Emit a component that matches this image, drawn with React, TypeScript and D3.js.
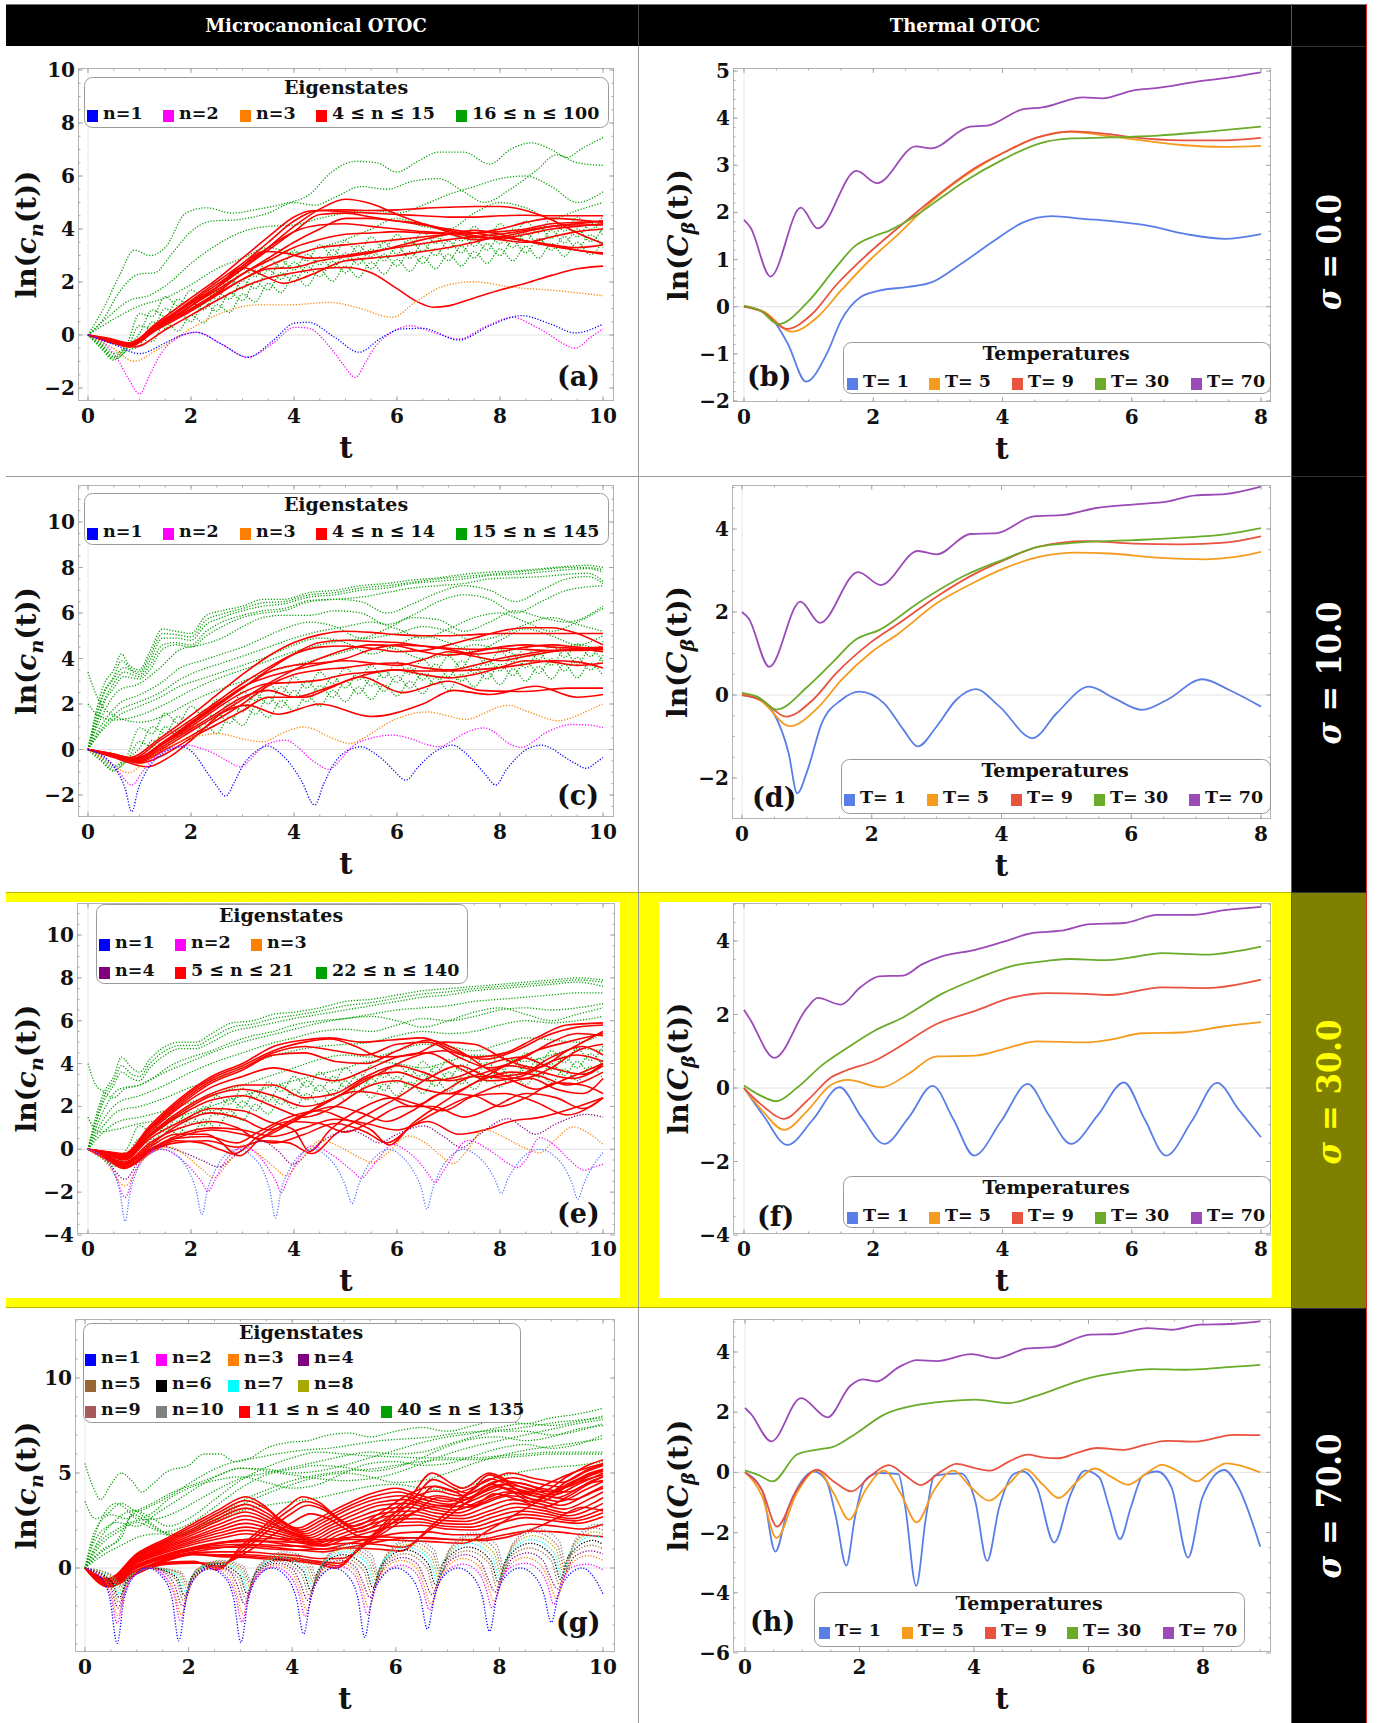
import React from "react";
import * as d3 from "d3";

type Pt = [number, number];

// ---------------- tick values ----------------
const MICRO_XTICKS = [0, 2, 4, 6, 8, 10];
const THERM_XTICKS = [0, 2, 4, 6, 8];
const A_YTICKS = [-2, 0, 2, 4, 6, 8, 10];
const B_YTICKS = [-2, -1, 0, 1, 2, 3, 4, 5];
const C_YTICKS = [-2, 0, 2, 4, 6, 8, 10];
const D_YTICKS = [-2, 0, 2, 4];
const E_YTICKS = [-4, -2, 0, 2, 4, 6, 8, 10];
const F_YTICKS = [-4, -2, 0, 2, 4];
const G_YTICKS = [0, 5, 10];
const H_YTICKS = [-6, -4, -2, 0, 2, 4];

// ---------------- legends ----------------
const TEMP_LABELS = ["T= 1", "T= 5", "T= 9", "T= 30", "T= 70"];
const TEMP_COLORS = ["#5a7ee8", "#f59b1e", "#e8523f", "#6aab2a", "#9b4ab7"];
const A_LABELS = ["n=1", "n=2", "n=3", "4 \u2264 n \u2264 15", "16 \u2264 n \u2264 100"];
const C_LABELS = ["n=1", "n=2", "n=3", "4 \u2264 n \u2264 14", "15 \u2264 n \u2264 145"];
const E_LABELS = ["n=1", "n=2", "n=3", "n=4", "5 \u2264 n \u2264 21", "22 \u2264 n \u2264 140"];
const G_LABELS = ["n=1", "n=2", "n=3", "n=4", "n=5", "n=6", "n=7", "n=8", "n=9", "n=10", "11 \u2264 n \u2264 40", "40 \u2264 n \u2264 135"];
const N_COLORS = ["#0000ff", "#ff00ff", "#ff8000", "#800080", "#996633", "#000000", "#00ffff", "#a8a800", "#a85a5a", "#808080"];
const RED = "#ff0000";
const GREEN = "#00a000";

// ---------------- thermal OTOC, sigma = 0 ----------------
const B_T1: Pt[] = [[0,0],[0.25,-0.08],[0.46,-0.3],[0.68,-0.79],[0.96,-1.59],[1.28,-1.0],[1.5,-0.3],[1.8,0.2],[2.09,0.34],[2.54,0.42],[2.91,0.52],[3.35,0.9],[3.87,1.4],[4.32,1.79],[4.76,1.92],[5.28,1.86],[5.65,1.82],[6.25,1.72],[6.84,1.54],[7.44,1.44],[8,1.54]];
const B_T5: Pt[] = [[0,0.02],[0.3,-0.1],[0.74,-0.53],[1.13,-0.23],[1.5,0.34],[1.94,0.98],[2.39,1.54],[2.98,2.32],[3.58,2.92],[4.02,3.27],[4.54,3.59],[5.06,3.71],[5.65,3.62],[6.03,3.55],[6.77,3.43],[7.44,3.39],[8,3.41]];
const B_T9: Pt[] = [[0,0],[0.3,-0.12],[0.66,-0.47],[1.05,-0.16],[1.42,0.45],[1.94,1.15],[2.39,1.68],[2.98,2.35],[3.58,2.95],[4.02,3.27],[4.54,3.59],[5.06,3.72],[5.65,3.66],[6.03,3.59],[6.77,3.53],[7.44,3.53],[8,3.58]];
const B_T30: Pt[] = [[0,0.02],[0.25,-0.08],[0.53,-0.37],[0.98,0.09],[1.42,0.83],[1.72,1.29],[2.02,1.5],[2.24,1.61],[2.69,1.96],[3.06,2.32],[3.43,2.67],[4.02,3.13],[4.54,3.45],[5.06,3.57],[5.65,3.59],[6.4,3.63],[7.14,3.71],[8,3.82]];
const B_T70: Pt[] = [[0,1.84],[0.1,1.68],[0.41,0.64],[0.88,2.1],[1.14,1.66],[1.74,2.88],[2.06,2.62],[2.66,3.4],[2.89,3.36],[3.5,3.82],[3.76,3.84],[4.32,4.19],[4.62,4.23],[5.25,4.44],[5.54,4.42],[6.03,4.59],[6.4,4.64],[6.99,4.77],[7.44,4.85],[8,4.97]];

// ---------------- thermal OTOC, sigma = 10 ----------------
const D_T1: Pt[] = [[0,0],[0.25,-0.1],[0.49,-0.44],[0.72,-1.41],[0.85,-2.37],[1.01,-1.81],[1.23,-0.68],[1.53,-0.12],[1.81,0.08],[2.19,-0.2],[2.49,-0.84],[2.71,-1.24],[3.0,-0.76],[3.3,-0.12],[3.6,0.14],[3.97,-0.28],[4.48,-1.04],[4.85,-0.44],[5.35,0.2],[5.74,-0.08],[6.17,-0.36],[6.55,-0.12],[7.1,0.38],[7.51,0.12],[8,-0.28]];
const D_T5: Pt[] = [[0,0.05],[0.3,-0.15],[0.74,-0.75],[1.16,-0.32],[1.53,0.36],[1.97,1.0],[2.42,1.49],[3.0,2.21],[3.6,2.73],[4.04,3.05],[4.56,3.32],[5.15,3.43],[5.66,3.41],[6.4,3.31],[7.14,3.27],[7.58,3.32],[8,3.45]];
const D_T9: Pt[] = [[0,0],[0.3,-0.12],[0.68,-0.52],[1.09,-0.12],[1.45,0.52],[1.97,1.25],[2.42,1.73],[3.0,2.37],[3.6,2.93],[4.04,3.25],[4.56,3.57],[5.3,3.71],[6.03,3.65],[6.77,3.63],[7.44,3.67],[8,3.82]];
const D_T30: Pt[] = [[0,0.05],[0.25,-0.05],[0.53,-0.35],[1.01,0.2],[1.38,0.76],[1.75,1.33],[2.12,1.57],[2.71,2.21],[3.45,2.89],[4.04,3.27],[4.56,3.57],[5.15,3.67],[6.03,3.73],[6.77,3.79],[7.44,3.87],[8,4.02]];
const D_T70: Pt[] = [[0,2.0],[0.1,1.85],[0.42,0.68],[0.9,2.25],[1.2,1.74],[1.79,2.96],[2.14,2.65],[2.71,3.47],[3.0,3.39],[3.52,3.88],[3.93,3.9],[4.48,4.3],[4.96,4.34],[5.44,4.5],[6.1,4.6],[6.55,4.66],[6.99,4.81],[7.44,4.84],[8,5.02]];

// ---------------- thermal OTOC, sigma = 30 ----------------
const F_T1: Pt[] = [[0,0],[0.3,-0.75],[0.67,-1.55],[1.07,-0.85],[1.48,0.02],[1.82,-0.8],[2.17,-1.52],[2.55,-0.8],[2.92,0.06],[3.24,-0.85],[3.56,-1.84],[3.98,-0.9],[4.39,0.11],[4.72,-0.75],[5.06,-1.52],[5.47,-0.75],[5.88,0.15],[6.2,-0.85],[6.53,-1.84],[6.93,-0.9],[7.32,0.14],[7.66,-0.6],[8,-1.34]];
const F_T5: Pt[] = [[0,0],[0.3,-0.65],[0.62,-1.14],[0.98,-0.62],[1.35,0.09],[1.61,0.22],[2.13,0.02],[2.54,0.38],[2.98,0.86],[3.58,0.88],[4.02,1.06],[4.54,1.27],[5.28,1.24],[5.65,1.31],[6.17,1.49],[6.77,1.51],[7.44,1.68],[8,1.79]];
const F_T9: Pt[] = [[0,0],[0.3,-0.5],[0.61,-0.84],[0.98,-0.34],[1.35,0.29],[1.57,0.47],[2.02,0.74],[2.39,1.11],[2.98,1.74],[3.58,2.1],[4.17,2.47],[4.69,2.58],[5.28,2.56],[5.65,2.53],[6.47,2.74],[7.14,2.72],[8,2.95]];
const F_T30: Pt[] = [[0,0.07],[0.25,-0.2],[0.5,-0.36],[0.83,0.02],[1.2,0.61],[1.57,1.06],[2.02,1.56],[2.46,1.92],[3.06,2.56],[3.58,2.96],[4.17,3.33],[4.69,3.46],[5.06,3.51],[5.58,3.48],[5.95,3.54],[6.47,3.67],[7.14,3.63],[7.58,3.71],[8,3.85]];
const F_T70: Pt[] = [[0,2.13],[0.1,1.85],[0.47,0.82],[0.98,2.19],[1.14,2.45],[1.5,2.27],[1.8,2.74],[2.09,3.04],[2.46,3.06],[2.76,3.37],[3.06,3.58],[3.58,3.76],[4.02,3.98],[4.47,4.22],[4.91,4.28],[5.36,4.46],[5.88,4.49],[6.4,4.71],[6.92,4.71],[7.44,4.84],[8,4.93]];

// ---------------- thermal OTOC, sigma = 70 ----------------
const H_T1: Pt[] = [[0,0],[0.3,-0.6],[0.53,-2.63],[0.75,-1.2],[0.92,-0.5],[1.21,0.03],[1.42,-0.28],[1.59,-1.5],[1.77,-3.1],[1.92,-1.5],[2.09,-0.28],[2.34,-0.02],[2.68,-0.06],[2.8,-1.16],[2.99,-3.77],[3.16,-1.5],[3.31,-0.11],[3.77,-0.03],[4.02,-0.94],[4.23,-2.94],[4.44,-1.16],[4.69,-0.06],[4.85,0.03],[5.1,-0.5],[5.4,-2.33],[5.69,-0.72],[5.94,0.06],[6.19,-0.17],[6.36,-1.16],[6.55,-2.22],[6.74,-1.16],[6.95,-0.11],[7.2,0.03],[7.45,-0.5],[7.74,-2.83],[7.99,-0.83],[8.37,0.08],[8.62,-0.5],[9,-2.47]];
const H_T5: Pt[] = [[0,0.02],[0.3,-0.8],[0.55,-2.18],[0.9,-0.7],[1.26,0.08],[1.55,-0.7],[1.82,-1.57],[2.1,-0.6],[2.43,0.06],[2.72,-0.7],[3.0,-1.66],[3.3,-0.6],[3.64,0.06],[3.95,-0.5],[4.27,-0.94],[4.6,-0.4],[4.9,0.11],[5.2,-0.4],[5.48,-0.85],[5.8,-0.3],[6.11,0.13],[6.4,-0.15],[6.69,-0.41],[7.0,-0.05],[7.28,0.25],[7.6,0.0],[7.89,-0.3],[8.15,0.05],[8.41,0.3],[8.7,0.2],[9,0.0]];
const H_T9: Pt[] = [[0,0],[0.3,-0.6],[0.56,-1.8],[0.9,-0.6],[1.26,0.09],[1.55,-0.3],[1.86,-0.63],[2.2,-0.1],[2.51,0.24],[2.8,-0.1],[3.07,-0.42],[3.4,0.0],[3.7,0.28],[4.0,0.15],[4.28,0.06],[4.6,0.35],[4.94,0.59],[5.2,0.5],[5.48,0.47],[5.8,0.65],[6.15,0.81],[6.61,0.75],[7.0,0.92],[7.36,1.05],[7.87,1.02],[8.54,1.25],[9,1.24]];
const H_T30: Pt[] = [[0,0.07],[0.25,-0.1],[0.48,-0.3],[0.92,0.61],[1.34,0.78],[1.51,0.83],[1.92,1.27],[2.43,1.92],[3.01,2.24],[3.51,2.36],[4.02,2.42],[4.6,2.3],[5.1,2.55],[5.94,3.1],[6.53,3.32],[7.11,3.43],[7.7,3.41],[8.37,3.49],[9,3.57]];
const H_T70: Pt[] = [[0,2.14],[0.1,1.95],[0.46,1.03],[0.98,2.47],[1.44,1.83],[1.84,2.88],[2.05,3.09],[2.3,3.02],[2.68,3.49],[3.01,3.73],[3.35,3.7],[3.95,3.93],[4.37,3.79],[4.94,4.12],[5.36,4.16],[6.03,4.58],[6.44,4.59],[7.03,4.79],[7.45,4.74],[7.95,4.91],[8.45,4.93],[9,5.02]];

// ---------------- microcanonical OTOC, sigma = 0 ----------------
const A_N1: Pt[] = [[0,0],[0.5,-0.35],[1.0,-0.7],[1.5,-0.3],[1.76,-0.05],[2.1,0.1],[2.6,-0.35],[3.1,-0.84],[3.6,-0.2],[4.0,0.44],[4.27,0.48],[4.8,-0.1],[5.26,-0.65],[5.7,-0.1],[6.09,0.23],[6.5,0.25],[7.2,-0.19],[7.8,0.35],[8.42,0.73],[9.0,0.4],[9.46,0.08],[10,0.41]];
const A_N2: Pt[] = [[0,0],[0.3,-0.3],[0.55,-0.84],[0.8,-1.7],[1.0,-2.22],[1.2,-1.5],[1.41,-0.72],[1.76,-0.09],[2.1,0.1],[2.6,-0.35],[3.1,-0.84],[3.6,-0.3],[4.01,0.29],[4.27,0.26],[4.7,-0.46],[4.95,-1.1],[5.19,-1.6],[5.4,-1.0],[5.57,-0.46],[5.9,0.1],[6.26,0.35],[6.7,0.1],[7.21,-0.15],[7.7,0.3],[8.25,0.67],[8.6,0.4],[8.94,0.04],[9.2,-0.3],[9.46,-0.5],[9.75,-0.1],[10,0.23]];
const A_N3: Pt[] = [[0,0],[0.46,-0.46],[0.89,-0.99],[1.32,-0.59],[1.93,0.16],[2.62,0.85],[3.32,1.14],[3.92,1.14],[4.7,1.23],[5.22,1.04],[5.91,0.67],[6.35,1.23],[6.87,1.82],[7.47,2.01],[8.25,1.8],[9.12,1.67],[10,1.48]];
const A_RED: Pt[][] = [
  [[0,0],[0.4,-0.12],[0.8,-0.3],[1.3,0.3],[2,1.2],[2.5,1.8],[3,2.5],[3.5,3.3],[4,4.1],[4.5,4.75],[5,5.12],[5.5,4.95],[6,4.55],[6.5,4.2],[7,3.9],[7.5,3.7],[8,3.65],[8.5,3.8],[9,4.0],[9.5,4.1],[10,4.2]],
  [[0,0],[0.4,-0.15],[0.8,-0.35],[1.3,0.4],[2,1.4],[2.5,2.1],[3,2.9],[3.5,3.7],[4,4.45],[4.3,4.68],[5,4.72],[5.5,4.7],[6,4.72],[6.5,4.78],[7,4.82],[7.5,4.85],[8,4.85],[8.5,4.7],[9,4.35],[9.5,3.85],[10,3.45]],
  [[0,0],[0.4,-0.2],[0.8,-0.4],[1.3,0.3],[2,1.3],[2.5,2.0],[3,2.7],[3.5,3.5],[4,4.3],[4.5,4.7],[5,4.65],[5.5,4.6],[6,4.55],[6.5,4.5],[7,4.45],[7.5,4.45],[8,4.5],[8.5,4.52],[9,4.5],[9.5,4.5],[10,4.5]],
  [[0,0],[0.4,-0.18],[0.8,-0.32],[1.3,0.35],[2,1.2],[2.5,1.8],[3,2.5],[3.5,3.2],[4,3.9],[4.5,4.55],[5,4.6],[5.5,4.45],[6,4.3],[6.5,4.15],[7,4.0],[7.5,3.85],[8,3.7],[8.5,3.55],[9,3.4],[9.5,3.2],[10,3.05]],
  [[0,0],[0.4,-0.22],[0.8,-0.42],[1.3,0.2],[2,1.1],[2.5,1.7],[3,2.3],[3.5,2.9],[4,3.5],[4.5,4.0],[5,4.4],[5.5,4.4],[6,4.3],[6.5,4.2],[7,3.95],[7.5,3.75],[8,3.6],[8.5,3.5],[9,3.7],[9.5,3.9],[10,4.0]],
  [[0,0],[0.4,-0.2],[0.8,-0.38],[1.3,0.25],[2,1.0],[2.5,1.6],[3,2.3],[3.5,2.8],[4,3.3],[4.5,3.6],[5,3.8],[5.5,3.85],[6,3.9],[6.5,3.85],[7,3.8],[7.5,3.6],[8,3.7],[8.5,3.9],[9,4.1],[9.5,4.2],[10,4.3]],
  [[0,0],[0.4,-0.25],[0.8,-0.45],[1.3,0.15],[2,0.9],[2.5,1.5],[3,2.1],[3.5,2.6],[4,3.0],[4.5,3.3],[5,3.4],[5.5,3.5],[6,3.6],[6.5,3.7],[7,3.8],[7.5,3.85],[8,3.9],[8.5,4.0],[9,4.2],[9.5,4.25],[10,4.3]],
  [[0,0],[0.4,-0.2],[0.8,-0.35],[1.3,0.3],[2,1.1],[2.5,1.8],[3,2.6],[3.4,3.15],[3.8,3.1],[4.3,2.9],[5,3.0],[5.5,3.15],[6,3.3],[6.5,3.45],[7,3.6],[7.5,3.7],[8,3.8],[8.5,3.95],[9,4.1],[9.5,4.15],[10,4.15]],
  [[0,0],[0.4,-0.2],[0.8,-0.4],[1.3,0.25],[2,1.1],[2.5,1.8],[3,2.55],[3.4,2.25],[3.8,1.95],[4.3,2.25],[5,2.8],[5.5,2.9],[6,3.0],[6.5,3.15],[7,3.3],[7.5,3.5],[8,3.7],[8.5,3.55],[9,3.4],[9.5,3.3],[10,3.4]],
  [[0,0],[0.4,-0.25],[0.9,-0.45],[1.5,0.2],[2,0.75],[2.5,1.3],[3,1.8],[3.5,2.15],[4,2.35],[4.5,2.5],[5,2.55],[5.5,2.35],[6,1.75],[6.4,1.25],[6.7,1.05],[7,1.1],[7.5,1.4],[8,1.7],[8.5,1.95],[9,2.25],[9.5,2.5],[10,2.6]],
  [[0,0],[0.4,-0.22],[0.8,-0.4],[1.3,0.2],[2,0.95],[2.5,1.55],[3,2.1],[3.5,2.5],[4,2.55],[4.5,2.8],[5,2.95],[5.5,3.1],[6,3.35],[6.5,3.6],[7,3.8],[7.5,3.95],[8,3.8],[8.5,3.55],[9,3.35],[9.5,3.2],[10,3.1]],
  [[0,0],[0.4,-0.18],[0.8,-0.3],[1.3,0.35],[2,1.25],[2.5,1.9],[3,2.6],[3.5,3.3],[4,3.9],[4.5,4.15],[5,4.2],[5.5,4.1],[6,4.0],[6.5,3.9],[7,3.85],[7.5,3.85],[8,4.0],[8.5,4.25],[9,4.4],[9.5,4.35],[10,4.25]],
];
const A_GREEN: Pt[][] = [
  [[0,0],[0.3,1.0],[0.6,2.2],[0.9,3.2],[1.2,3.0],[1.5,3.3],[1.9,4.6],[2.3,4.8],[2.8,4.6],[3.3,4.75],[3.8,4.95],[4.3,5.3],[4.7,6.1],[5.2,6.55],[5.6,6.5],[6.0,6.15],[6.4,6.55],[6.8,6.9],[7.3,6.9],[7.8,6.45],[8.2,7.0],[8.6,7.25],[9.0,7.0],[9.3,6.7],[9.6,7.05],[10,7.45]],
  [[0,0],[0.3,0.6],[0.6,1.6],[1.0,2.3],[1.3,2.35],[1.6,3.0],[2.0,3.9],[2.4,4.3],[2.9,4.35],[3.5,4.6],[4.0,5.0],[4.4,4.9],[4.8,5.2],[5.3,5.6],[5.8,5.5],[6.3,5.8],[6.8,5.9],[7.3,5.4],[7.7,5.0],[8.2,5.5],[8.7,6.2],[9.1,6.8],[9.5,6.5],[10,6.4]],
  [[0,0],[0.4,0.7],[0.8,1.3],[1.2,1.5],[1.6,2.0],[2.0,2.7],[2.5,3.4],[3.0,3.9],[3.5,4.1],[4.0,4.15],[4.5,4.4],[5.0,4.6],[5.5,4.7],[6.0,4.6],[6.5,4.9],[7.0,5.3],[7.5,5.6],[8.0,5.9],[8.5,6.0],[9.0,5.6],[9.5,5.0],[10,5.4]],
  [[0,0],[0.5,0.6],[1.0,1.1],[1.5,1.4],[2.0,1.9],[2.5,2.5],[3.0,2.9],[3.5,3.3],[4.0,3.1],[4.5,3.3],[5,3.6],[5.5,4.0],[6.0,4.4],[6.5,4.1],[7.0,4.0],[7.5,4.6],[8.0,5.0],[8.5,4.8],[9.0,4.4],[9.5,4.7],[10,5.0]],
];
// oscillating band, sampled every HATCH_DT in t
const HATCH_DT = 0.25;
const A_HATCH: number[][] = [
  [0,-0.3,-0.7,-0.35,0.8,0.7,1.45,1.1,1.7,1.4,2.1,1.8,2.5,2.2,2.9,2.55,3.2,2.8,3.4,2.98,3.55,3.12,3.7,3.25,3.8,3.35,3.9,3.45,4.0,3.55,4.1,3.65,4.2,3.75,4.3,3.85,4.4,3.92,4.45,3.98,4.5],
  [0,-0.35,-0.8,-0.45,0.05,0.95,0.7,1.35,0.95,1.65,1.35,2.05,1.75,2.45,2.15,2.8,2.45,3.05,2.65,3.23,2.8,3.37,2.95,3.5,3.05,3.6,3.15,3.7,3.25,3.8,3.35,3.9,3.45,4.0,3.55,4.1,3.65,4.17,3.7,4.23,3.75],
  [0,-0.45,-0.9,-0.55,0.35,0.25,1.0,0.65,1.25,0.95,1.65,1.35,2.05,1.75,2.45,2.1,2.75,2.35,2.95,2.53,3.1,2.67,3.25,2.8,3.35,2.9,3.45,3.0,3.55,3.1,3.65,3.2,3.75,3.3,3.85,3.4,3.95,3.47,4.0,3.53,4.05],
  [0,-0.5,-0.95,-0.6,-0.4,0.5,0.25,0.9,0.5,1.2,0.9,1.6,1.3,2.0,1.7,2.35,2.0,2.6,2.2,2.78,2.35,2.92,2.5,3.05,2.6,3.15,2.7,3.25,2.8,3.35,2.9,3.45,3.0,3.55,3.1,3.65,3.2,3.72,3.25,3.78,3.3],
  [0,-0.4,-0.85,-0.5,-0.15,-0.25,0.5,0.15,0.75,0.45,1.15,0.85,1.55,1.25,1.95,1.6,2.25,1.85,2.45,2.03,2.6,2.17,2.75,2.3,2.85,2.4,2.95,2.5,3.05,2.6,3.15,2.7,3.25,2.8,3.35,2.9,3.45,2.97,3.5,3.03,3.55],
];

// ---------------- microcanonical OTOC, sigma = 10 ----------------
const C_N1: Pt[] = [[0,0],[0.3,-0.3],[0.55,-0.9],[0.72,-1.7],[0.85,-2.73],[0.98,-1.7],[1.15,-0.9],[1.5,-0.1],[1.84,0.12],[2.1,-0.3],[2.28,-0.9],[2.5,-1.6],[2.67,-2.05],[2.85,-1.4],[3.01,-0.69],[3.2,-0.2],[3.49,0.15],[3.75,-0.2],[3.92,-0.61],[4.15,-1.4],[4.4,-2.44],[4.58,-1.5],[4.74,-0.76],[5.0,-0.1],[5.31,0.12],[5.55,-0.15],[5.74,-0.47],[5.95,-0.95],[6.17,-1.35],[6.4,-0.8],[6.61,-0.32],[6.85,0.05],[7.08,0.19],[7.3,-0.1],[7.47,-0.47],[7.7,-1.05],[7.92,-1.56],[8.12,-0.9],[8.34,-0.32],[8.55,0.05],[8.81,0.19],[9.0,0.05],[9.2,-0.25],[9.45,-0.6],[9.68,-0.83],[9.85,-0.6],[10,-0.35]];
const C_N2: Pt[] = [[0,0],[0.3,-0.3],[0.6,-1.0],[0.85,-1.56],[1.05,-1.0],[1.24,-0.47],[1.55,0.0],[1.93,0.19],[2.2,0.05],[2.45,-0.18],[2.7,-0.5],[2.97,-0.76],[3.15,-0.45],[3.32,-0.03],[3.55,0.3],[3.84,0.41],[4.05,0.15],[4.27,-0.32],[4.5,-0.7],[4.68,-0.88],[4.9,-0.45],[5.13,0.12],[5.5,0.5],[5.91,0.63],[6.15,0.55],[6.35,0.41],[6.6,0.2],[6.82,0.12],[7.05,0.35],[7.3,0.7],[7.69,0.95],[7.9,0.75],[8.08,0.41],[8.25,0.18],[8.42,0.09],[8.65,0.35],[8.86,0.7],[9.1,0.95],[9.38,1.1],[9.7,1.08],[10,0.96]];
const C_N3: Pt[] = [[0,0],[0.35,-0.5],[0.8,-1.02],[1.05,-0.65],[1.32,-0.18],[1.6,0.15],[1.93,0.48],[2.2,0.62],[2.54,0.7],[2.75,0.62],[2.97,0.48],[3.2,0.38],[3.4,0.34],[3.55,0.45],[3.75,0.7],[3.95,0.88],[4.18,0.99],[4.4,0.88],[4.61,0.63],[4.85,0.4],[5.09,0.26],[5.35,0.5],[5.65,0.92],[5.85,1.2],[6.09,1.43],[6.35,1.6],[6.61,1.65],[6.95,1.5],[7.34,1.32],[7.7,1.6],[7.95,1.85],[8.16,1.94],[8.5,1.7],[8.8,1.45],[9.12,1.26],[9.4,1.4],[9.7,1.7],[10,2.02]];
const C_RED: Pt[][] = [
  [[0,0],[0.5,-0.35],[1.15,-0.76],[1.6,-0.3],[2.1,0.6],[2.6,1.6],[3.1,1.95],[3.7,1.55],[4.5,2.0],[5.5,1.45],[6.5,2.0],[7.1,2.6],[7.8,2.42],[8.7,2.78],[9.5,2.3],[10,2.42]],
  [[0,0],[0.5,-0.3],[1.0,-0.6],[1.5,-0.2],[2,0.5],[2.5,1.1],[3,1.7],[3.5,2.3],[4.2,2.3],[4.7,2.7],[5.3,3.2],[6.1,2.5],[7.0,3.0],[7.6,2.6],[8.5,2.55],[9.3,2.7],[10,2.7]],
  [[0,0],[0.5,-0.25],[0.9,-0.45],[1.5,0.3],[2,1.0],[2.5,1.8],[3,2.5],[3.5,2.9],[4.0,2.95],[4.5,3.05],[5,3.3],[5.5,3.4],[6,3.5],[6.5,3.45],[7,3.45],[7.5,3.5],[8,3.6],[8.5,3.75],[9,3.9],[9.5,3.85],[10,3.58]],
  [[0,0],[0.5,-0.2],[0.9,-0.4],[1.5,0.4],[2,1.2],[2.5,2.0],[3,2.7],[3.5,3.4],[4,3.7],[4.5,3.8],[5,3.9],[5.5,3.8],[6,3.7],[6.5,3.95],[7,4.3],[7.5,4.1],[8,3.9],[8.5,4.1],[9,4.3],[9.5,4.4],[10,4.3]],
  [[0,0],[0.5,-0.2],[0.8,-0.35],[1.4,0.5],[2,1.5],[2.5,2.4],[3,3.3],[3.5,4.1],[4,4.7],[4.5,5.05],[5,5.2],[5.5,5.15],[6,5.05],[6.5,5.0],[7,5.0],[7.5,5.05],[8,5.1],[8.5,5.1],[9,5.1],[9.5,5.1],[10,5.1]],
  [[0,0],[0.5,-0.25],[0.85,-0.4],[1.4,0.4],[2,1.3],[2.5,2.1],[3,2.9],[3.5,3.6],[4,4.2],[4.5,4.5],[5,4.55],[5.5,4.45],[6,4.3],[6.5,4.35],[7,4.6],[7.5,4.9],[8,5.2],[8.5,5.35],[9,5.35],[9.5,5.1],[10,4.6]],
  [[0,0],[0.5,-0.25],[0.9,-0.45],[1.5,0.3],[2,1.1],[2.5,1.9],[3,2.7],[3.5,3.5],[4,4.2],[4.5,4.7],[5,4.8],[5.5,4.75],[6,4.7],[6.5,4.55],[7,4.4],[7.5,4.2],[8,4.3],[8.5,4.5],[9,4.6],[9.5,4.5],[10,4.4]],
  [[0,0],[0.5,-0.3],[1.0,-0.5],[1.5,0.1],[2,0.8],[2.5,1.5],[3,2.2],[3.5,2.9],[4,3.5],[4.5,4.0],[5,4.4],[5.5,4.6],[6,4.55],[6.5,4.3],[7,4.15],[7.5,4.3],[8,4.5],[8.5,4.6],[9,4.5],[9.5,4.45],[10,4.5]],
  [[0,0],[0.5,-0.3],[1.0,-0.55],[1.5,0.0],[2,0.6],[2.5,1.3],[3,2.0],[3.5,2.8],[4,3.3],[4.5,3.5],[5,3.6],[5.5,3.75],[6,3.8],[6.5,3.6],[7,3.5],[7.5,3.7],[8,4.0],[8.5,4.2],[9,4.35],[9.5,4.35],[10,4.4]],
  [[0,0],[0.5,-0.28],[0.95,-0.5],[1.5,0.2],[2,0.9],[2.5,1.6],[3,2.3],[3.5,2.6],[4,2.3],[4.5,2.6],[5,3.0],[5.5,3.35],[6,3.5],[6.5,3.3],[7,3.15],[7.5,3.3],[8,3.6],[8.5,3.9],[9,3.85],[9.5,3.7],[10,3.8]],
  [[0,0],[0.5,-0.22],[0.9,-0.42],[1.5,0.35],[2,1.15],[2.5,1.95],[3,2.75],[3.5,3.2],[4,3.5],[4.5,3.75],[5,4.0],[5.5,4.4],[6,4.6],[6.5,4.55],[7,4.45],[7.5,4.4],[8,4.45],[8.5,4.4],[9,4.35],[9.5,4.4],[10,4.45]],
];
const C_GREEN: Pt[][] = [
  [[0,0],[0.15,1.6],[0.3,2.8],[0.5,3.5],[0.65,4.2],[0.8,3.7],[1.0,3.5],[1.2,4.3],[1.45,5.3],[1.7,5.2],[2.0,5.1],[2.3,5.9],[2.6,6.1],[3.0,6.3],[3.4,6.6],[3.8,6.6],[4.3,6.9],[4.8,7.0],[5.3,7.2],[5.8,7.3],[6.3,7.45],[6.8,7.55],[7.3,7.7],[7.8,7.8],[8.3,7.85],[8.8,7.95],[9.3,8.05],[9.7,8.1],[10,8.0]],
  [[0,0],[0.15,1.4],[0.3,2.5],[0.5,3.2],[0.65,3.9],[0.85,3.5],[1.0,3.4],[1.2,4.1],[1.45,5.1],[1.7,5.05],[2.0,4.95],[2.3,5.7],[2.6,5.95],[3.0,6.2],[3.4,6.45],[3.8,6.5],[4.3,6.8],[4.8,6.9],[5.3,7.1],[5.8,7.2],[6.3,7.35],[6.8,7.5],[7.3,7.6],[7.8,7.7],[8.3,7.8],[8.8,7.9],[9.3,8.0],[9.7,8.0],[10,7.9]],
  [[0,0],[0.15,1.3],[0.3,2.4],[0.5,3.1],[0.7,3.6],[1.0,3.3],[1.2,3.9],[1.45,4.9],[1.7,4.9],[2.0,4.8],[2.3,5.5],[2.6,5.8],[3.0,6.1],[3.4,6.3],[3.8,6.4],[4.3,6.7],[4.8,6.8],[5.3,7.0],[5.8,7.1],[6.3,7.3],[6.8,7.4],[7.3,7.5],[7.8,7.65],[8.3,7.7],[8.8,7.8],[9.3,7.9],[9.7,7.95],[10,7.8]],
  [[0,0],[0.15,1.0],[0.3,2.0],[0.5,2.7],[0.7,3.2],[1.0,3.1],[1.2,3.5],[1.45,4.4],[1.7,4.6],[2.0,4.5],[2.3,5.0],[2.6,5.4],[3.0,5.8],[3.4,6.0],[3.8,6.1],[4.3,6.5],[4.8,6.6],[5.3,6.7],[5.8,6.9],[6.3,7.1],[6.8,7.2],[7.3,7.3],[7.8,7.5],[8.3,7.55],[8.8,7.6],[9.3,7.7],[9.7,7.75],[10,7.4]],
  [[0,0],[0.15,1.1],[0.3,2.1],[0.5,2.9],[0.7,3.4],[1.0,3.2],[1.2,3.7],[1.45,4.6],[1.7,4.7],[2.0,4.6],[2.3,5.2],[2.6,5.6],[3.0,5.9],[3.4,6.1],[3.8,6.2],[4.3,6.55],[4.8,6.6],[5.3,6.5],[5.8,6.0],[6.3,6.4],[6.8,6.9],[7.3,7.2],[7.8,7.0],[8.3,6.5],[8.8,7.0],[9.3,7.5],[9.7,7.6],[10,7.3]],
  [[0,0],[0.3,1.6],[0.6,2.6],[1.0,2.9],[1.4,3.6],[1.8,4.4],[2.2,4.6],[2.6,4.9],[3.0,5.4],[3.4,5.8],[3.8,5.9],[4.3,5.9],[4.8,6.1],[5.3,6.0],[5.8,5.5],[6.3,5.9],[6.8,6.5],[7.3,6.8],[7.8,6.6],[8.3,6.0],[8.8,6.5],[9.3,7.0],[10,7.2]],
  [[0,0],[0.3,1.2],[0.6,2.0],[1.0,2.4],[1.4,2.9],[1.8,3.6],[2.2,3.9],[2.6,4.2],[3.0,4.5],[3.4,4.9],[3.8,5.3],[4.3,5.6],[4.8,5.4],[5.3,4.9],[5.8,5.3],[6.3,5.8],[6.8,5.7],[7.3,5.2],[7.8,5.6],[8.3,6.1],[8.8,5.8],[9.3,5.6],[10,6.3]],
  [[0,0],[0.3,1.0],[0.6,1.7],[1.0,2.1],[1.4,2.5],[1.8,3.1],[2.2,3.5],[2.6,3.8],[3.0,4.1],[3.5,4.5],[4.0,4.9],[4.5,5.2],[5.0,5.4],[5.5,5.6],[6.0,5.3],[6.5,4.9],[7.0,5.3],[7.5,5.8],[8.0,6.0],[8.5,5.6],[9.0,5.2],[9.5,5.6],[10,6.2]],
  [[0,0],[0.3,0.9],[0.6,1.5],[1.0,1.9],[1.4,2.3],[1.8,2.8],[2.2,3.1],[2.6,3.4],[3.0,3.7],[3.5,4.1],[4.0,4.6],[4.5,4.9],[5.0,4.7],[5.5,4.2],[6.0,4.6],[6.5,5.0],[7.0,4.7],[7.5,4.3],[8.0,4.8],[8.5,5.3],[9.0,5.0],[9.5,4.6],[10,5.0]],
  [[0,3.4],[0.2,2.2],[0.5,1.5],[1.0,1.2],[1.5,1.5],[2.0,2.1],[2.5,2.6],[3.0,3.0],[3.5,3.4],[4.0,3.7],[4.5,4.0],[5.0,4.3],[5.5,4.6],[6.0,4.4],[6.5,4.0],[7.0,4.2],[7.5,4.6],[8.0,4.4],[8.5,4.1],[9.0,4.3],[9.5,4.6],[10,4.3]],
  [[0,2.0],[0.2,1.5],[0.5,1.3],[1.0,1.5],[1.5,2.0],[2.0,2.6],[2.5,3.1],[3.0,3.5],[3.5,3.9],[4.0,4.3],[4.5,4.6],[5.0,4.8],[5.5,4.9],[6.0,5.1],[6.5,5.4],[7.0,5.2],[7.5,4.8],[8.0,5.0],[8.5,5.5],[9.0,5.8],[9.5,5.5],[10,5.2]],
];
const C_HATCH: number[][] = [
  [0,-0.3,-0.7,-0.3,0.95,0.7,1.6,1.15,1.9,1.45,2.2,1.75,2.55,2.15,2.9,2.45,3.2,2.7,3.4,2.9,3.6,3.05,3.7,3.15,3.85,3.3,3.95,3.45,4.1,3.6,4.25,3.7,4.35,3.85,4.5,3.95,4.6,4.05,4.65,4.1,4.75],
  [0,-0.35,-0.8,-0.4,0.05,1.0,0.7,1.45,1.0,1.75,1.3,2.05,1.65,2.45,2.0,2.75,2.3,3.0,2.5,3.2,2.7,3.35,2.8,3.45,2.95,3.6,3.05,3.75,3.2,3.9,3.35,4.0,3.45,4.15,3.6,4.25,3.7,4.35,3.75,4.4,3.85],
  [0,-0.45,-0.9,-0.5,0.35,0.1,1.0,0.55,1.3,0.85,1.6,1.15,1.95,1.55,2.3,1.85,2.6,2.1,2.8,2.3,3.0,2.45,3.1,2.55,3.25,2.7,3.35,2.85,3.5,3.0,3.65,3.1,3.75,3.25,3.9,3.35,4.0,3.45,4.05,3.5,4.15],
  [0,-0.5,-0.95,-0.55,-0.55,0.4,0.1,0.85,0.4,1.15,0.7,1.45,1.05,1.85,1.4,2.15,1.7,2.4,1.9,2.6,2.1,2.75,2.2,2.85,2.35,3.0,2.45,3.15,2.6,3.3,2.75,3.4,2.85,3.55,3.0,3.65,3.1,3.75,3.15,3.8,3.25],
];

// ---------------- microcanonical OTOC, sigma = 30 ----------------
const E_N1: Pt[] = [[0,0],[0.3,-0.4],[0.5,-1.1],[0.62,-2.0],[0.72,-3.36],[0.82,-2.0],[0.95,-1.0],[1.15,-0.3],[1.45,0.0],[1.75,-0.35],[1.95,-1.0],[2.1,-1.9],[2.21,-3.05],[2.32,-1.9],[2.47,-1.0],[2.65,-0.3],[2.92,0.0],[3.2,-0.35],[3.4,-1.0],[3.53,-1.9],[3.64,-3.2],[3.75,-1.9],[3.9,-1.0],[4.1,-0.3],[4.38,0.0],[4.65,-0.35],[4.85,-0.95],[5.0,-1.7],[5.13,-2.53],[5.25,-1.7],[5.4,-0.9],[5.6,-0.3],[5.85,0.0],[6.1,-0.35],[6.3,-0.95],[6.47,-1.8],[6.58,-2.79],[6.7,-1.8],[6.85,-0.95],[7.05,-0.3],[7.3,0.0],[7.55,-0.3],[7.75,-0.8],[7.9,-1.4],[8.03,-2.06],[8.15,-1.4],[8.3,-0.8],[8.5,-0.25],[8.77,0.0],[9.05,-0.3],[9.25,-0.85],[9.4,-1.6],[9.51,-2.33],[9.63,-1.6],[9.8,-0.8],[10,-0.15]];
const E_N2: Pt[] = [[0,0],[0.3,-0.4],[0.5,-1.0],[0.72,-2.25],[0.9,-1.1],[1.1,-0.35],[1.41,0.0],[1.75,-0.35],[2.0,-0.9],[2.2,-1.5],[2.33,-1.97],[2.47,-1.4],[2.65,-0.6],[3.01,0.08],[3.3,-0.25],[3.5,-0.9],[3.65,-1.5],[3.75,-2.02],[3.88,-1.4],[4.05,-0.6],[4.35,0.15],[4.7,-0.2],[4.95,-0.65],[5.15,-1.05],[5.31,-1.35],[5.47,-0.95],[5.65,-0.4],[5.91,0.23],[6.2,-0.1],[6.45,-0.65],[6.62,-1.2],[6.74,-1.55],[6.88,-1.1],[7.05,-0.45],[7.39,0.42],[7.7,0.1],[7.95,-0.3],[8.15,-0.65],[8.34,-0.85],[8.5,-0.5],[8.77,0.54],[9.1,0.1],[9.35,-0.5],[9.52,-0.85],[9.64,-0.98],[9.8,-0.85],[10,-0.7]];
const E_N3: Pt[] = [[0,0],[0.35,-0.6],[0.72,-1.71],[1.0,-0.7],[1.3,-0.05],[1.6,0.1],[1.9,-0.3],[2.2,-0.9],[2.45,-1.32],[2.7,-0.7],[3.01,0.19],[3.3,-0.2],[3.6,-0.8],[3.84,-1.24],[4.1,-0.6],[4.53,0.42],[4.9,0.1],[5.25,-0.35],[5.52,-0.62],[5.8,-0.2],[6.22,0.62],[6.55,0.3],[6.85,-0.3],[7.08,-0.67],[7.35,-0.1],[7.69,0.93],[8.05,0.6],[8.45,0.1],[8.77,-0.16],[9.05,0.4],[9.42,1.04],[9.75,0.7],[10,0.23]];
const E_N4: Pt[] = [[0,0],[0.35,-0.5],[0.72,-1.4],[1.0,-0.5],[1.4,0.15],[1.8,-0.1],[2.2,-0.5],[2.54,-0.82],[2.9,-0.2],[3.36,0.39],[3.7,-0.1],[3.97,-0.7],[4.3,-0.1],[4.7,0.6],[5.13,0.88],[5.4,0.6],[5.65,0.3],[6.0,0.7],[6.52,1.09],[6.9,0.6],[7.26,0.08],[7.6,0.7],[8.16,1.43],[8.45,1.0],[8.68,0.7],[9.1,1.2],[9.68,1.63],[10,1.5]];
const E_RED: Pt[][] = [
  [[0,0],[0.35,-0.35],[0.7,-0.75],[1.2,0.1],[1.7,0.7],[2.3,0.7],[2.6,0.3],[2.85,-0.2],[3.3,0.6],[3.9,1.3],[4.5,1.2],[5.0,0.8],[5.5,1.3],[6.1,2.0],[6.7,2.0],[7.3,1.5],[7.9,2.0],[8.5,2.6],[9.1,2.4],[9.6,1.9],[10,2.4]],
  [[0,0],[0.35,-0.3],[0.7,-0.6],[1.2,0.3],[1.8,1.0],[2.4,1.3],[2.9,1.0],[3.3,0.5],[3.7,0.9],[4.2,1.6],[4.8,2.0],[5.3,1.7],[5.8,1.3],[6.3,1.8],[6.9,2.6],[7.5,2.5],[8.0,2.0],[8.5,2.4],[9.1,3.1],[9.6,3.0],[10,2.6]],
  [[0,0],[0.35,-0.25],[0.7,-0.5],[1.2,0.5],[1.8,1.3],[2.4,1.9],[3.0,1.8],[3.5,1.3],[4.0,0.9],[4.3,-0.1],[4.7,0.9],[5.3,1.9],[5.9,2.4],[6.4,2.1],[6.9,1.8],[7.4,2.4],[8.0,3.0],[8.6,3.3],[9.1,2.8],[9.6,2.6],[10,3.3]],
  [[0,0],[0.35,-0.2],[0.7,-0.45],[1.2,0.6],[1.8,1.6],[2.4,2.3],[3.0,2.5],[3.6,2.0],[4.2,1.5],[4.8,2.0],[5.4,2.9],[6.0,3.2],[6.5,2.8],[7.0,2.6],[7.6,3.2],[8.2,3.6],[8.8,3.4],[9.3,3.0],[10,3.6]],
  [[0,0],[0.35,-0.2],[0.7,-0.4],[1.2,0.7],[1.8,1.8],[2.4,2.6],[3.0,3.0],[3.6,3.0],[4.2,2.4],[4.8,2.6],[5.4,3.4],[6.0,3.9],[6.5,3.6],[7.0,3.2],[7.6,3.5],[8.2,3.9],[8.8,3.6],[9.4,3.3],[10,3.9]],
  [[0,0],[0.35,-0.15],[0.7,-0.35],[1.2,0.8],[1.8,2.0],[2.4,2.9],[3.0,3.4],[3.6,3.8],[4.2,3.5],[4.8,3.2],[5.4,3.7],[6.0,4.3],[6.6,4.5],[7.2,3.8],[7.8,3.2],[8.4,3.4],[9.0,4.1],[9.5,4.4],[10,4.1]],
  [[0,0],[0.35,-0.15],[0.7,-0.3],[1.2,0.9],[1.8,2.1],[2.4,3.1],[3.0,3.7],[3.6,4.4],[4.2,4.5],[4.8,4.1],[5.4,4.0],[6.0,4.6],[6.6,5.1],[7.2,4.6],[7.8,3.7],[8.4,3.3],[9.0,3.8],[9.5,4.6],[10,4.9]],
  [[0,0],[0.35,-0.12],[0.7,-0.25],[1.2,1.0],[1.8,2.3],[2.4,3.3],[3.0,3.9],[3.6,4.6],[4.2,5.0],[4.7,5.15],[5.2,4.8],[5.7,4.3],[6.3,4.4],[6.9,5.0],[7.5,4.9],[8.1,4.2],[8.7,3.8],[9.3,4.6],[10,5.5]],
  [[0,0],[0.35,-0.1],[0.7,-0.2],[1.2,1.1],[1.8,2.4],[2.4,3.4],[3.0,4.0],[3.6,4.8],[4.2,5.1],[4.7,5.2],[5.3,5.0],[5.9,5.1],[6.5,5.2],[7.1,4.6],[7.7,4.2],[8.3,4.6],[8.9,5.3],[9.5,5.7],[10,5.8]],
  [[0,0],[0.35,-0.45],[0.7,-0.9],[1.2,-0.2],[1.7,0.4],[2.2,0.3],[2.6,-0.05],[2.95,-0.3],[3.3,0.4],[3.9,1.3],[4.5,2.0],[5.1,2.8],[5.7,3.6],[6.3,4.3],[6.9,4.6],[7.5,4.3],[8.1,4.5],[8.7,5.2],[9.3,5.8],[10,5.9]],
  [[0,0],[0.35,-0.4],[0.7,-0.85],[1.2,-0.1],[1.7,0.3],[2.3,0.4],[2.9,0.1],[3.4,0.4],[3.9,0.3],[4.35,-0.2],[4.8,0.7],[5.4,1.6],[6.0,2.4],[6.6,3.3],[7.2,3.9],[7.8,3.4],[8.4,3.5],[9.0,4.3],[9.6,4.8],[10,4.4]],
  [[0,0],[0.35,-0.35],[0.7,-0.7],[1.2,0.0],[1.8,0.6],[2.4,0.9],[3.0,0.7],[3.6,0.3],[4.2,0.7],[4.8,1.2],[5.4,0.8],[5.8,0.3],[6.3,1.1],[6.9,1.9],[7.5,2.5],[8.1,2.6],[8.7,2.2],[9.3,1.6],[10,2.4]],
  [[0,0],[0.35,-0.3],[0.7,-0.65],[1.2,0.2],[1.8,1.2],[2.4,1.7],[3.0,1.4],[3.5,0.9],[4.0,1.3],[4.6,2.2],[5.2,2.7],[5.8,2.5],[6.3,2.0],[6.9,2.7],[7.5,3.4],[8.1,3.3],[8.7,2.8],[9.3,3.3],[10,4.0]],
  [[0,0],[0.35,-0.2],[0.7,-0.45],[1.2,0.65],[1.8,1.7],[2.4,2.5],[3.0,2.8],[3.6,2.5],[4.2,2.0],[4.8,2.4],[5.4,3.3],[6.0,3.6],[6.6,3.2],[7.2,3.4],[7.8,4.0],[8.4,4.3],[9.0,3.8],[9.6,3.5],[10,4.0]],
  [[0,0],[0.35,-0.13],[0.7,-0.28],[1.2,0.95],[1.8,2.2],[2.4,3.2],[3.0,3.8],[3.6,4.5],[4.2,4.8],[4.8,4.6],[5.4,4.4],[6.0,4.9],[6.6,5.0],[7.2,4.3],[7.8,3.8],[8.4,4.2],[9.0,5.0],[9.5,5.4],[10,5.3]],
  [[0,0],[0.35,-0.4],[0.7,-0.8],[1.2,-0.1],[1.7,0.5],[2.3,0.6],[2.9,0.3],[3.3,0.8],[3.9,1.5],[4.5,1.8],[5.0,1.4],[5.5,0.9],[5.85,0.2],[6.3,1.2],[6.9,2.2],[7.5,3.1],[8.1,3.9],[8.7,4.6],[9.3,5.0],[10,5.4]],
  [[0,0],[0.35,-0.35],[0.7,-0.7],[1.2,0.0],[1.8,0.7],[2.4,1.0],[3.0,0.9],[3.6,0.6],[4.2,1.0],[4.8,1.4],[5.4,1.2],[6.0,0.9],[6.6,1.3],[7.2,0.7],[7.7,0.9],[8.2,1.3],[8.8,1.5],[9.4,1.9],[10,2.4]],
];
const E_GREEN: Pt[][] = [
  [[0,0],[0.15,1.5],[0.3,2.6],[0.5,3.4],[0.65,4.3],[0.85,3.8],[1.0,3.6],[1.2,4.2],[1.5,4.8],[1.8,5.0],[2.1,5.0],[2.4,5.4],[2.8,5.9],[3.2,6.0],[3.6,6.3],[4.0,6.4],[4.5,6.6],[5.0,6.9],[5.5,7.0],[6.0,7.2],[6.5,7.4],[7.0,7.5],[7.5,7.6],[8.0,7.7],[8.5,7.8],[9.0,7.9],[9.5,8.0],[10,7.9]],
  [[0,0],[0.15,1.3],[0.3,2.4],[0.5,3.2],[0.65,3.9],[0.85,3.5],[1.0,3.4],[1.2,4.0],[1.5,4.6],[1.8,4.85],[2.1,4.85],[2.4,5.2],[2.8,5.7],[3.2,5.85],[3.6,6.1],[4.0,6.25],[4.5,6.45],[5.0,6.7],[5.5,6.85],[6.0,7.05],[6.5,7.25],[7.0,7.35],[7.5,7.5],[8.0,7.6],[8.5,7.7],[9.0,7.8],[9.5,7.9],[10,7.8]],
  [[0,0],[0.15,1.2],[0.3,2.2],[0.5,3.0],[0.65,3.6],[0.85,3.3],[1.0,3.2],[1.2,3.8],[1.5,4.4],[1.8,4.7],[2.1,4.7],[2.4,5.0],[2.8,5.5],[3.2,5.7],[3.6,5.9],[4.0,6.1],[4.5,6.3],[5.0,6.5],[5.5,6.7],[6.0,6.9],[6.5,7.1],[7.0,7.2],[7.5,7.4],[8.0,7.5],[8.5,7.6],[9.0,7.7],[9.5,7.8],[10,7.6]],
  [[0,4.0],[0.15,3.0],[0.3,2.7],[0.5,2.4],[0.7,2.8],[1.0,3.0],[1.3,3.4],[1.6,3.9],[2.0,4.3],[2.4,4.6],[2.8,5.0],[3.2,5.3],[3.6,5.5],[4.0,5.8],[4.5,6.0],[5.0,6.1],[5.5,6.3],[6.0,6.5],[6.5,6.6],[7.0,6.7],[7.5,6.9],[8.0,7.0],[8.5,7.1],[9.0,7.2],[9.5,7.3],[10,7.3]],
  [[0,0],[0.3,1.8],[0.6,2.8],[1.0,3.0],[1.5,3.6],[2.0,4.1],[2.5,4.6],[3.0,5.0],[3.5,5.3],[4.0,5.6],[4.5,5.9],[5.0,6.1],[5.5,6.2],[6.0,6.0],[6.5,5.7],[7.0,6.0],[7.5,6.4],[8.0,6.6],[8.5,6.3],[9.0,6.0],[9.5,6.3],[10,6.6]],
  [[0,0],[0.3,1.4],[0.6,2.2],[1.0,2.5],[1.5,3.0],[2.0,3.6],[2.5,4.1],[3.0,4.5],[3.5,4.9],[4.0,5.2],[4.5,5.5],[5.0,5.6],[5.5,5.5],[6.0,5.8],[6.5,6.1],[7.0,6.0],[7.5,6.2],[8.0,6.5],[8.5,6.6],[9.0,6.5],[9.5,6.6],[10,6.8]],
  [[0,0],[0.3,1.1],[0.6,1.8],[1.0,2.0],[1.5,2.4],[2.0,2.9],[2.5,3.3],[3.0,3.8],[3.5,4.3],[4.0,4.6],[4.5,4.8],[5.0,4.9],[5.5,5.0],[6.0,5.3],[6.5,5.5],[7.0,5.4],[7.5,5.5],[8.0,5.8],[8.5,6.0],[9.0,5.9],[9.5,6.0],[10,6.2]],
  [[0,0],[0.3,0.8],[0.6,1.3],[1.0,1.5],[1.5,1.8],[2.0,2.2],[2.5,2.6],[3.0,3.0],[3.5,3.4],[4.0,3.8],[4.5,4.2],[5.0,4.4],[5.5,4.3],[6.0,4.6],[6.5,4.9],[7.0,4.8],[7.5,4.6],[8.0,4.9],[8.5,5.2],[9.0,5.1],[9.5,5.0],[10,5.4]],
  [[0,1.5],[0.2,0.8],[0.5,0.9],[1.0,1.2],[1.5,1.4],[2.0,1.7],[2.5,2.1],[3.0,2.5],[3.5,2.9],[4.0,3.2],[4.5,3.5],[5.0,3.8],[5.5,4.1],[6.0,4.0],[6.5,3.8],[7.0,4.1],[7.5,4.4],[8.0,4.3],[8.5,4.1],[9.0,4.4],[9.5,4.7],[10,4.6]],
];
const E_HATCH: number[][] = [
  [0,-0.2,-0.5,0.0,1.1,0.8,1.7,1.3,2.1,1.7,2.5,2.1,2.85,2.4,3.15,2.7,3.4,2.9,3.6,3.1,3.8,3.25,3.9,3.35,4.0,3.45,4.1,3.55,4.2,3.65,4.3,3.75,4.4,3.85,4.5,3.95,4.6,4.05,4.7,4.15,4.8],
  [0,-0.3,-0.6,-0.2,0.2,1.1,0.8,1.6,1.2,2.0,1.6,2.4,1.95,2.7,2.25,3.0,2.5,3.2,2.7,3.4,2.9,3.55,3.0,3.65,3.1,3.75,3.2,3.85,3.3,3.95,3.4,4.05,3.5,4.15,3.6,4.25,3.7,4.35,3.8,4.45,3.9],
  [0,-0.35,-0.7,-0.3,0.5,0.2,1.1,0.7,1.5,1.1,1.9,1.5,2.25,1.8,2.55,2.1,2.8,2.3,3.0,2.5,3.2,2.65,3.3,2.75,3.4,2.85,3.5,2.95,3.6,3.05,3.7,3.15,3.8,3.25,3.9,3.35,4.0,3.45,4.1,3.55,4.2],
  [0,-0.4,-0.8,-0.4,-0.4,0.5,0.2,1.0,0.6,1.4,1.0,1.8,1.35,2.1,1.65,2.4,1.9,2.6,2.1,2.8,2.3,2.95,2.4,3.05,2.5,3.15,2.6,3.25,2.7,3.35,2.8,3.45,2.9,3.55,3.0,3.65,3.1,3.75,3.2,3.85,3.3],
];

// ---------------- microcanonical OTOC, sigma = 70 ----------------
const G_N1: Pt[] = [[0,0],[0.3,-0.5],[0.48,-1.6],[0.62,-3.97],[0.75,-1.7],[0.9,-0.6],[1.2,0.0],[1.5,-0.5],[1.68,-1.6],[1.81,-3.83],[1.95,-1.7],[2.1,-0.6],[2.4,-0.05],[2.7,-0.5],[2.87,-1.6],[3.01,-3.92],[3.15,-1.7],[3.3,-0.6],[3.6,0.0],[3.9,-0.5],[4.08,-1.6],[4.22,-3.47],[4.36,-1.6],[4.5,-0.6],[4.8,0.0],[5.1,-0.5],[5.27,-1.6],[5.4,-3.65],[5.54,-1.6],[5.7,-0.6],[6.0,0.0],[6.3,-0.5],[6.47,-1.5],[6.61,-3.21],[6.75,-1.5],[6.9,-0.5],[7.2,0.0],[7.5,-0.5],[7.67,-1.5],[7.81,-3.33],[7.95,-1.5],[8.1,-0.5],[8.4,0.0],[8.7,-0.5],[8.86,-1.4],[9.0,-2.86],[9.14,-1.4],[9.3,-0.5],[9.6,0.0],[9.85,-0.6],[10,-1.36]];
const G_N2: Pt[] = [[0,0],[0.3,-0.5],[0.5,-1.5],[0.62,-2.9],[0.76,-1.4],[0.95,-0.4],[1.25,0.0],[1.55,-0.5],[1.72,-1.4],[1.84,-2.8],[1.98,-1.3],[2.15,-0.4],[2.45,0.0],[2.75,-0.5],[2.9,-1.4],[3.03,-2.85],[3.17,-1.3],[3.35,-0.35],[3.65,0.05],[3.95,-0.4],[4.12,-1.3],[4.25,-2.55],[4.4,-1.2],[4.6,-0.3],[4.9,0.1],[5.2,-0.35],[5.32,-1.2],[5.45,-2.45],[5.6,-1.1],[5.8,-0.2],[6.1,0.15],[6.4,-0.3],[6.52,-1.1],[6.65,-2.2],[6.8,-1.0],[7.0,-0.1],[7.3,0.2],[7.6,-0.25],[7.73,-1.0],[7.86,-2.1],[8.0,-0.9],[8.2,0.0],[8.5,0.25],[8.8,-0.2],[8.93,-0.9],[9.05,-1.9],[9.2,-0.8],[9.4,0.05],[9.7,0.2],[10,-0.1]];
const G_N3: Pt[] = [[0,0],[0.35,-0.5],[0.48,-1.1],[0.63,-2.5],[0.78,-1.1],[0.95,-0.35],[1.25,0.0],[1.55,-0.45],[1.71,-1.1],[1.86,-2.45],[2.01,-1.1],[2.2,-0.3],[2.5,0.05],[2.78,-0.35],[2.9,-1.05],[3.05,-2.4],[3.2,-1.0],[3.4,-0.2],[3.7,0.15],[4.0,-0.25],[4.13,-1.0],[4.28,-2.2],[4.43,-0.9],[4.62,-0.05],[4.9,0.3],[5.2,-0.1],[5.33,-0.9],[5.48,-2.1],[5.63,-0.8],[5.82,0.05],[6.1,0.4],[6.4,0.0],[6.53,-0.8],[6.68,-1.9],[6.83,-0.7],[7.02,0.15],[7.3,0.5],[7.6,0.1],[7.75,-0.7],[7.9,-1.75],[8.05,-0.6],[8.22,0.2],[8.5,0.55],[8.8,0.15],[8.95,-0.6],[9.1,-1.6],[9.25,-0.5],[9.42,0.3],[9.7,0.65],[10,0.4]];
const G_N4: Pt[] = [[0,0],[0.35,-0.45],[0.49,-0.95],[0.64,-2.1],[0.79,-0.95],[0.97,-0.3],[1.27,0.0],[1.58,-0.35],[1.73,-0.9],[1.88,-2.0],[2.03,-0.85],[2.22,-0.2],[2.5,0.1],[2.8,-0.2],[2.93,-0.85],[3.08,-1.9],[3.23,-0.8],[3.42,-0.05],[3.72,0.25],[4.02,-0.1],[4.15,-0.75],[4.3,-1.7],[4.45,-0.7],[4.64,0.1],[4.94,0.4],[5.22,0.05],[5.35,-0.65],[5.5,-1.55],[5.65,-0.6],[5.84,0.25],[6.14,0.55],[6.42,0.2],[6.55,-0.55],[6.7,-1.4],[6.85,-0.5],[7.05,0.4],[7.35,0.7],[7.64,0.3],[7.77,-0.5],[7.92,-1.25],[8.07,-0.4],[8.25,0.5],[8.55,0.8],[8.84,0.4],[8.97,-0.4],[9.12,-1.1],[9.27,-0.3],[9.45,0.6],[9.75,0.9],[10,0.75]];
const G_N5: Pt[] = [[0,0],[0.5,-0.8],[0.65,-1.8],[0.8,-0.8],[1.28,0.0],[1.75,-0.6],[1.9,-1.7],[2.05,-0.6],[2.52,0.15],[2.95,-0.5],[3.1,-1.6],[3.25,-0.45],[3.74,0.35],[4.18,-0.35],[4.33,-1.45],[4.48,-0.3],[4.96,0.55],[5.38,-0.15],[5.53,-1.3],[5.68,-0.1],[6.17,0.75],[6.59,0.05],[6.74,-1.15],[6.89,0.1],[7.38,0.9],[7.8,0.25],[7.95,-1.0],[8.1,0.25],[8.58,1.05],[9.0,0.4],[9.15,-0.85],[9.3,0.4],[9.78,1.2],[10,1.0]];
const G_N6: Pt[] = [[0,0],[0.51,-0.7],[0.66,-1.55],[0.81,-0.7],[1.29,0.0],[1.77,-0.5],[1.92,-1.45],[2.07,-0.45],[2.54,0.2],[2.98,-0.35],[3.13,-1.35],[3.28,-0.3],[3.76,0.45],[4.21,-0.15],[4.36,-1.2],[4.51,-0.1],[4.98,0.7],[5.41,0.05],[5.56,-1.05],[5.71,0.1],[6.19,0.95],[6.62,0.25],[6.77,-0.9],[6.92,0.3],[7.4,1.1],[7.83,0.4],[7.98,-0.75],[8.13,0.45],[8.6,1.3],[9.03,0.6],[9.18,-0.6],[9.33,0.6],[9.8,1.45],[10,1.25]];
const G_N7: Pt[] = [[0,0],[0.52,-0.6],[0.67,-1.35],[0.82,-0.6],[1.3,0.0],[1.79,-0.4],[1.94,-1.25],[2.09,-0.35],[2.56,0.25],[3.0,-0.2],[3.15,-1.15],[3.3,-0.15],[3.78,0.55],[4.24,0.0],[4.39,-1.0],[4.54,0.05],[5.0,0.85],[5.44,0.25],[5.59,-0.85],[5.74,0.3],[6.21,1.1],[6.65,0.45],[6.8,-0.7],[6.95,0.5],[7.42,1.3],[7.86,0.6],[8.01,-0.55],[8.16,0.65],[8.62,1.5],[9.06,0.8],[9.21,-0.45],[9.36,0.8],[9.82,1.7],[10,1.55]];
const G_N8: Pt[] = [[0,0],[0.53,-0.5],[0.68,-1.15],[0.83,-0.5],[1.31,0.0],[1.81,-0.3],[1.96,-1.05],[2.11,-0.25],[2.58,0.3],[3.02,-0.1],[3.17,-0.95],[3.32,-0.05],[3.8,0.65],[4.27,0.15],[4.42,-0.8],[4.57,0.2],[5.02,1.0],[5.47,0.4],[5.62,-0.65],[5.77,0.45],[6.23,1.25],[6.68,0.6],[6.83,-0.5],[6.98,0.65],[7.44,1.5],[7.89,0.8],[8.04,-0.35],[8.19,0.85],[8.64,1.7],[9.09,1.0],[9.24,-0.25],[9.39,1.0],[9.84,1.9],[10,1.8]];
const G_N9: Pt[] = [[0,0],[0.54,-0.45],[0.69,-1.0],[0.84,-0.45],[1.32,0.0],[1.83,-0.25],[1.98,-0.9],[2.13,-0.15],[2.6,0.35],[3.04,0.0],[3.19,-0.8],[3.34,0.05],[3.82,0.75],[4.3,0.3],[4.45,-0.65],[4.6,0.35],[5.04,1.1],[5.5,0.55],[5.65,-0.5],[5.8,0.6],[6.25,1.4],[6.71,0.8],[6.86,-0.35],[7.01,0.85],[7.46,1.7],[7.92,1.0],[8.07,-0.2],[8.22,1.05],[8.66,1.9],[9.12,1.2],[9.27,-0.1],[9.42,1.2],[9.86,2.1],[10,2.0]];
const G_N10: Pt[] = [[0,0],[0.55,-0.4],[0.7,-0.9],[0.85,-0.4],[1.33,0.0],[1.85,-0.2],[2.0,-0.8],[2.15,-0.1],[2.62,0.4],[3.06,0.1],[3.21,-0.7],[3.36,0.15],[3.84,0.85],[4.33,0.45],[4.48,-0.55],[4.63,0.5],[5.06,1.25],[5.53,0.7],[5.68,-0.4],[5.83,0.75],[6.27,1.55],[6.74,0.95],[6.89,-0.25],[7.04,1.0],[7.48,1.85],[7.95,1.2],[8.1,-0.1],[8.25,1.25],[8.68,2.1],[9.15,1.45],[9.3,0.0],[9.45,1.45],[9.88,2.3],[10,2.2]];
const G_RED: Pt[][] = [
  [[0,0],[0.45,-0.55],[1.0,0.75],[1.6,1.6],[2.1,2.35],[2.6,3.1],[3.1,3.75],[3.45,3.3],[3.75,2.6],[4.1,2.1],[4.5,2.6],[5.0,3.3],[5.5,3.9],[6.0,4.2],[6.5,3.8],[7.0,3.5],[7.5,4.0],[8.0,4.6],[8.5,4.4],[9.0,4.0],[9.5,4.6],[10,5.2]],
  [[0,0],[0.45,-0.58],[1.0,0.7],[1.6,1.52],[2.1,2.22],[2.6,2.95],[3.1,3.55],[3.5,3.1],[3.8,2.45],[4.15,2.0],[4.55,2.5],[5.05,3.2],[5.55,3.75],[6.05,4.0],[6.55,3.6],[7.05,3.35],[7.55,3.85],[8.05,4.4],[8.55,4.2],[9.05,3.85],[9.55,4.45],[10,5.0]],
  [[0,0],[0.45,-0.6],[1.0,0.65],[1.6,1.45],[2.1,2.1],[2.6,2.8],[3.1,3.35],[3.5,2.9],[3.85,2.3],[4.2,1.9],[4.6,2.4],[5.1,3.1],[5.6,3.6],[6.1,3.8],[6.6,3.4],[7.1,3.2],[7.6,3.7],[8.1,4.2],[8.6,4.0],[9.1,3.7],[9.6,4.3],[10,4.8]],
  [[0,0],[0.45,-0.63],[1.0,0.6],[1.6,1.38],[2.1,2.0],[2.6,2.65],[3.1,3.15],[3.52,2.7],[3.88,2.15],[4.25,1.8],[4.65,2.3],[5.15,2.95],[5.65,3.45],[6.15,3.6],[6.65,3.25],[7.15,3.05],[7.65,3.55],[8.15,4.0],[8.65,3.8],[9.15,3.5],[9.65,4.1],[10,4.55]],
  [[0,0],[0.45,-0.65],[1.0,0.55],[1.6,1.3],[2.1,1.9],[2.6,2.5],[3.1,2.95],[3.55,2.5],[3.9,2.0],[4.3,1.7],[4.7,2.2],[5.2,2.8],[5.7,3.3],[6.2,3.4],[6.7,3.1],[7.2,2.9],[7.7,3.4],[8.2,3.8],[8.7,3.6],[9.2,3.3],[9.7,3.9],[10,4.3]],
  [[0,0],[0.45,-0.68],[1.0,0.5],[1.6,1.22],[2.1,1.78],[2.6,2.32],[3.1,2.75],[3.58,2.35],[3.95,1.9],[4.35,1.6],[4.75,2.1],[5.25,2.65],[5.75,3.1],[6.25,3.2],[6.75,2.9],[7.25,2.75],[7.75,3.2],[8.25,3.6],[8.75,3.4],[9.25,3.1],[9.75,3.65],[10,4.0]],
  [[0,0],[0.45,-0.7],[1.0,0.45],[1.6,1.15],[2.1,1.65],[2.6,2.15],[3.1,2.55],[3.6,2.2],[4.0,1.8],[4.4,1.5],[4.8,2.0],[5.3,2.5],[5.8,2.9],[6.3,3.0],[6.8,2.7],[7.3,2.6],[7.8,3.0],[8.3,3.4],[8.8,3.2],[9.3,2.9],[9.8,3.4],[10,3.7]],
  [[0,0],[0.45,-0.72],[1.0,0.4],[1.6,1.08],[2.1,1.55],[2.6,2.0],[3.1,2.35],[3.6,2.05],[4.05,1.68],[4.45,1.4],[4.85,1.88],[5.35,2.35],[5.85,2.72],[6.35,2.8],[6.85,2.52],[7.35,2.45],[7.85,2.85],[8.35,3.2],[8.85,3.02],[9.35,2.75],[9.85,3.2],[10,3.4]],
  [[0,0],[0.45,-0.75],[1.0,0.35],[1.6,1.0],[2.1,1.45],[2.6,1.85],[3.1,2.15],[3.6,1.9],[4.1,1.55],[4.5,1.3],[4.9,1.75],[5.4,2.2],[5.9,2.55],[6.4,2.6],[6.9,2.35],[7.4,2.3],[7.9,2.7],[8.4,3.0],[8.9,2.85],[9.4,2.6],[9.9,3.0],[10,3.1]],
  [[0,0],[0.45,-0.78],[1.0,0.3],[1.6,0.92],[2.1,1.35],[2.6,1.7],[3.1,1.98],[3.6,1.75],[4.1,1.45],[4.55,1.22],[4.95,1.62],[5.45,2.05],[5.95,2.38],[6.45,2.42],[6.95,2.2],[7.45,2.15],[7.95,2.52],[8.45,2.82],[8.95,2.68],[9.45,2.48],[9.95,2.85],[10,2.9]],
  [[0,0],[0.45,-0.8],[1.0,0.25],[1.6,0.85],[2.1,1.25],[2.6,1.55],[3.1,1.8],[3.6,1.6],[4.1,1.35],[4.6,1.15],[5.0,1.5],[5.5,1.9],[6.0,2.2],[6.5,2.25],[7.0,2.05],[7.5,2.0],[8.0,2.35],[8.5,2.65],[9.0,2.5],[9.5,2.35],[10,2.7]],
  [[0,0],[0.45,-0.85],[1.0,0.15],[1.6,0.7],[2.1,1.05],[2.6,1.3],[3.1,1.5],[3.6,1.35],[4.1,1.15],[4.6,1.0],[5.1,1.3],[5.6,1.6],[6.1,1.85],[6.6,1.9],[7.1,1.75],[7.6,1.75],[8.1,2.05],[8.6,2.3],[9.1,2.2],[9.6,2.05],[10,2.3]],
  [[0,0],[0.45,-0.9],[1.0,0.05],[1.6,0.55],[2.1,0.85],[2.6,1.05],[3.1,1.2],[3.6,1.1],[4.1,0.95],[4.6,0.85],[5.1,1.1],[5.6,1.35],[6.1,1.55],[6.6,1.6],[7.1,1.5],[7.6,1.5],[8.1,1.75],[8.6,1.95],[9.1,1.9],[9.6,1.75],[10,1.65]],
  [[0,0],[0.45,-1.0],[1.0,-0.3],[1.6,0.3],[2.1,0.35],[2.55,-0.1],[3.0,1.1],[3.5,2.3],[3.9,3.2],[4.2,3.75],[4.55,3.4],[4.85,2.7],[5.2,2.2],[5.7,2.9],[6.2,3.8],[6.7,4.3],[7.2,4.0],[7.7,4.5],[8.2,5.0],[8.7,4.7],[9.2,4.5],[9.7,5.1],[10,5.4]],
  [[0,0],[0.45,-0.97],[1.0,-0.28],[1.6,0.28],[2.1,0.32],[2.58,0.0],[3.02,1.0],[3.52,2.15],[3.92,3.0],[4.25,3.5],[4.6,3.2],[4.9,2.55],[5.25,2.05],[5.75,2.75],[6.25,3.6],[6.75,4.05],[7.25,3.8],[7.75,4.3],[8.25,4.75],[8.75,4.45],[9.25,4.25],[9.75,4.85],[10,5.1]],
  [[0,0],[0.45,-0.95],[1.0,-0.25],[1.6,0.25],[2.1,0.3],[2.6,0.1],[3.05,0.9],[3.55,2.0],[3.95,2.8],[4.3,3.3],[4.65,3.0],[4.95,2.4],[5.3,1.9],[5.8,2.6],[6.3,3.4],[6.8,3.8],[7.3,3.6],[7.8,4.1],[8.3,4.5],[8.8,4.2],[9.3,4.0],[9.8,4.6],[10,4.8]],
  [[0,0],[0.45,-0.9],[1.0,-0.2],[1.6,0.2],[2.1,0.25],[2.65,0.25],[3.1,0.8],[3.6,1.7],[4.0,2.4],[4.35,2.85],[4.7,2.6],[5.0,2.1],[5.4,1.6],[5.9,2.3],[6.4,3.0],[6.9,3.3],[7.4,3.2],[7.9,3.7],[8.4,4.0],[8.9,3.8],[9.4,3.6],[9.9,4.1],[10,4.2]],
  [[0,0],[0.45,-0.9],[1.0,-0.2],[1.6,0.4],[2.1,0.7],[2.6,0.6],[3.1,0.55],[3.6,0.45],[4.1,0.35],[4.5,0.2],[4.85,0.0],[5.3,1.1],[5.8,2.4],[6.3,3.8],[6.7,5.0],[7.1,4.4],[7.3,4.2],[7.8,5.0],[8.3,4.4],[8.8,4.0],[9.3,4.8],[9.7,5.4],[10,5.7]],
  [[0,0],[0.45,-0.88],[1.0,-0.18],[1.6,0.42],[2.1,0.72],[2.6,0.65],[3.1,0.62],[3.6,0.52],[4.1,0.42],[4.5,0.28],[4.88,0.12],[5.32,1.1],[5.82,2.3],[6.32,3.55],[6.72,4.65],[7.12,4.2],[7.35,3.95],[7.82,4.7],[8.3,4.2],[8.8,3.75],[9.3,4.55],[9.72,5.2],[10,5.45]],
  [[0,0],[0.45,-0.85],[1.0,-0.15],[1.6,0.45],[2.1,0.75],[2.6,0.7],[3.1,0.7],[3.6,0.6],[4.1,0.5],[4.5,0.35],[4.9,0.25],[5.35,1.1],[5.85,2.2],[6.35,3.3],[6.75,4.3],[7.15,4.0],[7.4,3.7],[7.85,4.4],[8.3,4.0],[8.8,3.5],[9.3,4.3],[9.75,5.0],[10,5.2]],
  [[0,0],[0.45,-0.8],[1.0,-0.1],[1.6,0.5],[2.1,0.8],[2.6,0.85],[3.1,0.85],[3.6,0.75],[4.1,0.65],[4.55,0.5],[4.95,0.5],[5.4,1.2],[5.9,2.1],[6.4,3.0],[6.8,3.7],[7.2,3.5],[7.5,3.3],[7.9,3.9],[8.35,3.6],[8.85,3.2],[9.35,3.8],[9.8,4.5],[10,4.6]],
  [[0,0],[0.45,-0.75],[1.0,0.0],[1.6,0.6],[2.1,0.95],[2.6,1.1],[3.1,1.1],[3.6,1.0],[4.1,0.95],[4.6,1.0],[5.1,1.05],[5.6,1.0],[6.1,0.9],[6.6,2.0],[7.1,3.2],[7.5,4.2],[7.8,4.9],[8.15,4.5],[8.5,3.9],[8.9,4.4],[9.4,5.0],[10,5.5]],
  [[0,0],[0.45,-0.7],[1.0,0.05],[1.6,0.65],[2.1,1.0],[2.6,1.2],[3.1,1.25],[3.6,1.2],[4.1,1.15],[4.6,1.2],[5.1,1.3],[5.6,1.25],[6.15,1.1],[6.65,2.0],[7.15,3.0],[7.55,3.8],[7.9,4.3],[8.25,4.0],[8.6,3.5],[9.0,3.9],[9.5,4.5],[10,4.9]],
  [[0,0],[0.45,-0.65],[1.0,0.1],[1.6,0.7],[2.1,1.05],[2.6,1.3],[3.1,1.4],[3.6,1.4],[4.1,1.35],[4.6,1.4],[5.1,1.5],[5.6,1.5],[6.1,1.45],[6.6,1.4],[7.3,1.3],[7.8,2.0],[8.3,2.8],[8.8,3.6],[9.3,4.4],[9.7,4.9],[10,5.1]],
  [[0,0],[0.45,-0.6],[1.0,0.15],[1.6,0.75],[2.1,1.1],[2.6,1.35],[3.1,1.5],[3.6,1.55],[4.1,1.5],[4.6,1.5],[5.1,1.6],[5.6,1.65],[6.1,1.6],[6.6,1.55],[7.1,1.5],[7.6,1.45],[8.1,1.6],[8.6,2.0],[9.1,2.6],[9.6,3.2],[10,3.0]],
];
const G_GREEN: Pt[][] = [
  [[0,5.5],[0.15,4.3],[0.3,3.6],[0.5,4.4],[0.7,5.0],[0.9,4.6],[1.1,4.0],[1.3,4.4],[1.6,5.1],[2.0,5.4],[2.3,6.0],[2.6,6.0],[2.9,5.6],[3.2,5.8],[3.5,6.3],[3.9,6.6],[4.3,6.7],[4.7,7.0],[5.1,7.1],[5.5,6.9],[6.0,7.2],[6.5,7.4],[7.0,7.2],[7.5,7.5],[8.0,7.8],[8.5,7.6],[9.0,7.9],[9.5,8.1],[10,8.4]],
  [[0,3.5],[0.2,2.6],[0.4,2.8],[0.7,3.4],[1.0,3.0],[1.3,3.3],[1.7,3.9],[2.1,4.6],[2.5,5.2],[2.9,5.6],[3.3,5.8],[3.7,6.0],[4.2,6.2],[4.7,6.3],[5.2,6.5],[5.7,6.7],[6.2,6.8],[6.7,6.9],[7.2,7.1],[7.7,7.2],[8.2,7.3],[8.7,7.5],[9.2,7.7],[9.6,7.8],[10,7.9]],
  [[0,0],[0.2,2.0],[0.5,2.8],[0.8,2.6],[1.0,3.0],[1.3,3.4],[1.7,4.0],[2.0,4.3],[2.5,4.8],[3.0,5.25],[3.5,5.1],[4.0,4.9],[4.5,4.7],[5.0,4.6],[5.5,4.7],[6.0,5.0],[6.5,5.5],[7.0,6.0],[7.5,6.4],[8.0,6.7],[8.5,7.0],[9.0,7.3],[9.5,7.6],[10,7.8]],
  [[0,0],[0.3,1.6],[0.6,2.4],[1.0,2.2],[1.4,2.9],[1.8,3.6],[2.2,4.3],[2.6,4.9],[3.0,5.25],[3.5,5.2],[4.0,5.0],[4.5,5.1],[5.0,5.4],[5.5,5.8],[6.0,6.2],[6.5,6.6],[7.0,6.9],[7.5,7.1],[8.0,7.4],[8.5,7.6],[9.0,7.5],[9.5,7.7],[10,8.0]],
  [[0,0],[0.3,1.4],[0.6,2.0],[1.0,2.5],[1.4,2.6],[1.8,3.0],[2.2,3.6],[2.6,4.2],[3.0,4.7],[3.5,5.0],[4.0,5.3],[4.5,5.6],[5.0,5.9],[5.5,6.1],[6.0,6.0],[6.5,6.1],[7.0,6.5],[7.5,6.9],[8.0,7.2],[8.5,7.2],[9.0,7.0],[9.5,7.2],[10,7.6]],
  [[0,0],[0.2,1.5],[0.5,2.3],[0.95,3.05],[1.3,2.6],[1.6,2.2],[2.0,2.6],[2.5,3.6],[3.0,4.6],[3.5,5.3],[4.0,5.8],[4.5,6.1],[5.0,6.0],[5.5,5.9],[6.0,5.85],[6.5,5.8],[7.0,5.8],[7.5,5.8],[8.0,5.9],[8.5,6.0],[9.0,6.1],[9.5,6.1],[10,6.1]],
  [[0,0],[0.3,1.2],[0.7,2.0],[1.0,2.4],[1.5,1.9],[2.0,2.3],[2.5,3.2],[3.0,4.2],[3.5,4.9],[4.0,5.2],[4.5,5.4],[5.0,5.3],[5.5,5.1],[6.0,5.3],[6.5,5.8],[7.0,6.4],[7.5,6.8],[8.0,6.9],[8.5,6.7],[9.0,6.9],[9.5,7.3],[10,7.5]],
  [[0,0],[0.3,0.9],[0.7,1.6],[0.95,3.0],[1.3,2.3],[1.7,1.7],[2.0,1.9],[2.5,2.5],[3.0,3.3],[3.5,3.9],[4.0,4.4],[4.5,4.8],[5.0,5.0],[5.5,4.8],[6.0,4.5],[6.5,4.6],[7.0,5.0],[7.5,5.5],[8.0,5.9],[8.5,6.2],[9.0,6.4],[9.5,6.6],[10,6.8]],
  [[0,0],[0.3,0.8],[0.6,1.4],[0.95,2.8],[1.2,2.4],[1.5,1.9],[1.8,1.8],[2.2,2.2],[2.6,2.8],[3.0,3.5],[3.5,4.1],[4.0,4.6],[4.5,4.9],[5.0,5.1],[5.5,5.2],[6.0,5.4],[6.5,5.6],[7.0,5.7],[7.5,5.7],[8.0,5.8],[8.5,5.9],[9.0,6.0],[9.5,6.0],[10,6.0]],
  [[0,0],[0.3,0.6],[0.7,1.2],[1.0,1.6],[1.4,1.8],[1.8,1.7],[2.2,2.0],[2.6,2.6],[3.0,3.0],[3.5,3.3],[4.0,3.5],[4.5,3.7],[5.0,4.0],[5.5,4.3],[6.0,4.4],[6.5,4.2],[7.0,4.1],[7.5,4.4],[8.0,4.8],[8.5,5.1],[9.0,5.3],[9.5,5.4],[10,5.6]],
  [[0,0],[0.3,2.5],[0.6,3.4],[0.8,3.1],[1.0,2.6],[1.3,2.9],[1.6,3.6],[2.0,4.2],[2.5,4.6],[3.0,4.8],[3.5,4.5],[4.0,4.2],[4.5,4.4],[5.0,5.0],[5.5,5.5],[6.0,5.6],[6.5,5.4],[7.0,5.5],[7.5,5.9],[8.0,6.3],[8.5,6.5],[9.0,6.3],[9.5,6.5],[10,7.0]],
];

// ---------------- drawing ----------------
const FONT = "'DejaVu Serif', 'Liberation Serif', serif";

type Curve = { pts: Pt[]; color: string; kind: "dot" | "solid"; w?: number };
type LegendItem = { label: string; color: string; x: number; y: number };
type LegendSpec = { box: [number, number, number, number]; title: string; titleX: number; titleY: number; items: LegendItem[] };
type PanelSpec = {
  id: string;
  frame: [number, number, number, number];
  xCal: [number, number, number, number];
  yCal: [number, number, number, number];
  xTicks: number[];
  yTicks: number[];
  xMinor: number;
  yMinor: number;
  curves: Curve[];
  legend: LegendSpec;
  tag: string;
  tagPos: [number, number];
  thermal: boolean;
};

const fmt = (v: number) => (v < 0 ? "\u2212" + Math.abs(v) : String(v));
const hatch = (vals: number[]): Pt[] => vals.map((v, i) => [i * HATCH_DT, v] as Pt);

function legendRow(labels: string[], colors: string[], xs: number[], y: number): LegendItem[] {
  return labels.map((l, i) => ({ label: l, color: colors[i], x: xs[i], y }));
}

function Panel({ p }: { p: PanelSpec }) {
  const x = d3.scaleLinear().domain([p.xCal[0], p.xCal[2]]).range([p.xCal[1], p.xCal[3]]);
  const y = d3.scaleLinear().domain([p.yCal[0], p.yCal[2]]).range([p.yCal[1], p.yCal[3]]);
  const [fx0, fy0, fx1, fy1] = p.frame;
  const line = d3.line<Pt>().x((d) => x(d[0])).y((d) => y(d[1])).curve(d3.curveMonotoneX);
  const xv0 = x.invert(fx0), xv1 = x.invert(fx1);
  const yv0 = y.invert(fy1), yv1 = y.invert(fy0);
  const xMin = d3.range(Math.ceil(xv0 / p.xMinor) * p.xMinor, xv1, p.xMinor);
  const yMin = d3.range(Math.ceil(yv0 / p.yMinor) * p.yMinor, yv1, p.yMinor);
  const tickC = "#a8a8a8";
  const cx = (fx0 + fx1) / 2, cy = (fy0 + fy1) / 2;
  const [lx0, ly0, lx1, ly1] = p.legend.box;
  return (
    <g>
      <defs>
        <clipPath id={`clip-${p.id}`}>
          <rect x={fx0} y={fy0} width={fx1 - fx0} height={fy1 - fy0} />
        </clipPath>
      </defs>
      {/* zero axes */}
      <line x1={fx0} x2={fx1} y1={y(0)} y2={y(0)} stroke="#e2e2e2" strokeWidth={1} />
      <line x1={x(0)} x2={x(0)} y1={fy0} y2={fy1} stroke="#e8e8e8" strokeWidth={1} />
      <g clipPath={`url(#clip-${p.id})`} fill="none">
        {p.curves.map((c, i) => (
          <path
            key={i}
            d={line(c.pts) || ""}
            stroke={c.color}
            strokeWidth={c.w ?? (c.kind === "dot" ? 1.3 : 1.6)}
            strokeDasharray={c.kind === "dot" ? "1.2 1.7" : undefined}
            strokeLinejoin="round"
          />
        ))}
      </g>
      {/* frame and ticks */}
      <rect x={fx0 + 0.5} y={fy0 + 0.5} width={fx1 - fx0 - 1} height={fy1 - fy0 - 1} fill="none" stroke="#b4b4b4" strokeWidth={1} />
      <g stroke={tickC} strokeWidth={1}>
        {xMin.map((v, i) => (
          <g key={"xm" + i}>
            <line x1={x(v)} x2={x(v)} y1={fy1} y2={fy1 - 2.5} />
            <line x1={x(v)} x2={x(v)} y1={fy0} y2={fy0 + 2.5} />
          </g>
        ))}
        {p.xTicks.map((v, i) => (
          <g key={"xM" + i}>
            <line x1={x(v)} x2={x(v)} y1={fy1} y2={fy1 - 5} />
            <line x1={x(v)} x2={x(v)} y1={fy0} y2={fy0 + 5} />
          </g>
        ))}
        {yMin.map((v, i) => (
          <g key={"ym" + i}>
            <line x1={fx0} x2={fx0 + 2.5} y1={y(v)} y2={y(v)} />
            <line x1={fx1} x2={fx1 - 2.5} y1={y(v)} y2={y(v)} />
          </g>
        ))}
        {p.yTicks.map((v, i) => (
          <g key={"yM" + i}>
            <line x1={fx0} x2={fx0 + 5} y1={y(v)} y2={y(v)} />
            <line x1={fx1} x2={fx1 - 5} y1={y(v)} y2={y(v)} />
          </g>
        ))}
      </g>
      <g fontFamily={FONT} fontWeight="bold" fontSize={20} fill="#111">
        {p.xTicks.map((v, i) => (
          <text key={"xl" + i} x={x(v)} y={fy1 + 22} textAnchor="middle">{fmt(v)}</text>
        ))}
        {p.yTicks.map((v, i) => (
          <text key={"yl" + i} x={fx0 - 3} y={y(v) + 7} textAnchor="end">{fmt(v)}</text>
        ))}
      </g>
      {/* axis titles */}
      <text x={cx} y={fy1 + 57} textAnchor="middle" fontFamily={FONT} fontWeight="bold" fontSize={29} fill="#111">t</text>
      <text
        transform={`translate(${p.thermal ? fx0 - 45 : 36},${cy}) rotate(-90)`}
        textAnchor="middle"
        fontFamily={FONT}
        fontWeight="bold"
        fontSize={28}
        fill="#111"
      >
        ln(
        <tspan fontStyle="italic">{p.thermal ? "C" : "c"}</tspan>
        <tspan fontStyle="italic" fontSize={19} dy={7}>{p.thermal ? "\u03b2" : "n"}</tspan>
        <tspan dy={-7}>(t))</tspan>
      </text>
      {/* legend */}
      <rect x={lx0 + 0.5} y={ly0 + 0.5} width={lx1 - lx0} height={ly1 - ly0} rx={8} ry={8} fill="#fff" fillOpacity={0.92} stroke="#9a9a9a" strokeWidth={1} />
      <text x={p.legend.titleX} y={p.legend.titleY} textAnchor="middle" fontFamily={FONT} fontWeight="bold" fontSize={19} fill="#111">
        {p.legend.title}
      </text>
      {p.legend.items.map((it, i) => (
        <g key={"lg" + i}>
          <rect x={it.x} y={it.y - 9} width={11} height={12} fill={it.color} />
          <text x={it.x + 16} y={it.y} fontFamily={FONT} fontWeight="bold" fontSize={17.5} fill="#111">{it.label}</text>
        </g>
      ))}
      <text x={p.tagPos[0]} y={p.tagPos[1]} fontFamily={FONT} fontWeight="bold" fontSize={27} fill="#111">{p.tag}</text>
    </g>
  );
}

const dots = (arr: Pt[][]): Curve[] => arr.map((pts) => ({ pts, color: GREEN, kind: "dot" as const }));
const reds = (arr: Pt[][]): Curve[] => arr.map((pts) => ({ pts, color: RED, kind: "solid" as const }));
const therm = (arr: Pt[][]): Curve[] => arr.map((pts, i) => ({ pts, color: TEMP_COLORS[i], kind: "solid" as const, w: 1.8 }));

const PANELS: PanelSpec[] = [
  {
    id: "a", frame: [78, 68, 614, 401], xCal: [0, 88, 10, 603], yCal: [-2, 388, 10, 70],
    xTicks: MICRO_XTICKS, yTicks: A_YTICKS, xMinor: 0.5, yMinor: 0.5, thermal: false,
    curves: [
      ...dots(A_GREEN), ...dots(A_HATCH.map(hatch)), ...reds(A_RED),
      { pts: A_N3, color: N_COLORS[2], kind: "dot" }, { pts: A_N2, color: N_COLORS[1], kind: "dot" }, { pts: A_N1, color: N_COLORS[0], kind: "dot" },
    ],
    legend: { box: [84, 77, 608, 127], title: "Eigenstates", titleX: 346, titleY: 94,
      items: legendRow(A_LABELS, [N_COLORS[0], N_COLORS[1], N_COLORS[2], RED, GREEN], [87, 163, 240, 316, 456], 119) },
    tag: "(a)", tagPos: [557, 386],
  },
  {
    id: "b", frame: [733, 68, 1271, 402], xCal: [0, 744, 8, 1261], yCal: [-2, 401, 5, 71],
    xTicks: THERM_XTICKS, yTicks: B_YTICKS, xMinor: 0.5, yMinor: 0.2, thermal: true,
    curves: therm([B_T1, B_T5, B_T9, B_T30, B_T70]),
    legend: { box: [843, 342, 1270, 393], title: "Temperatures", titleX: 1056, titleY: 360,
      items: legendRow(TEMP_LABELS, TEMP_COLORS, [847, 929, 1012, 1095, 1191], 387) },
    tag: "(b)", tagPos: [747, 386],
  },
  {
    id: "c", frame: [78, 485, 614, 817], xCal: [0, 88, 10, 603], yCal: [-2, 795, 10, 522],
    xTicks: MICRO_XTICKS, yTicks: C_YTICKS, xMinor: 0.5, yMinor: 0.5, thermal: false,
    curves: [
      ...dots(C_GREEN), ...dots(C_HATCH.map(hatch)), ...reds(C_RED),
      { pts: C_N3, color: N_COLORS[2], kind: "dot" }, { pts: C_N2, color: N_COLORS[1], kind: "dot" }, { pts: C_N1, color: N_COLORS[0], kind: "dot" },
    ],
    legend: { box: [84, 493, 608, 544], title: "Eigenstates", titleX: 346, titleY: 511,
      items: legendRow(C_LABELS, [N_COLORS[0], N_COLORS[1], N_COLORS[2], RED, GREEN], [87, 163, 240, 316, 456], 537) },
    tag: "(c)", tagPos: [557, 805],
  },
  {
    id: "d", frame: [732, 485, 1271, 819], xCal: [0, 742, 8, 1261], yCal: [-2, 778, 4, 529],
    xTicks: THERM_XTICKS, yTicks: D_YTICKS, xMinor: 0.5, yMinor: 0.5, thermal: true,
    curves: therm([D_T1, D_T5, D_T9, D_T30, D_T70]),
    legend: { box: [841, 759, 1270, 813], title: "Temperatures", titleX: 1055, titleY: 777,
      items: legendRow(TEMP_LABELS, TEMP_COLORS, [844, 927, 1011, 1094, 1189], 803) },
    tag: "(d)", tagPos: [752, 807],
  },
  {
    id: "e", frame: [77, 903, 615, 1234], xCal: [0, 88, 10, 603], yCal: [-4, 1235, 10, 935],
    xTicks: MICRO_XTICKS, yTicks: E_YTICKS, xMinor: 0.5, yMinor: 0.5, thermal: false,
    curves: [
      ...dots(E_GREEN), ...dots(E_HATCH.map(hatch)), ...reds(E_RED),
      { pts: E_N4, color: N_COLORS[3], kind: "dot" }, { pts: E_N3, color: N_COLORS[2], kind: "dot" },
      { pts: E_N2, color: N_COLORS[1], kind: "dot" }, { pts: E_N1, color: "#5577ff", kind: "dot" },
    ],
    legend: { box: [96, 904, 467, 983], title: "Eigenstates", titleX: 281, titleY: 922,
      items: [
        ...legendRow(E_LABELS.slice(0, 3), N_COLORS.slice(0, 3), [99, 175, 251], 948),
        ...legendRow(E_LABELS.slice(3), [N_COLORS[3], RED, GREEN], [99, 175, 316], 976),
      ] },
    tag: "(e)", tagPos: [557, 1223],
  },
  {
    id: "f", frame: [733, 903, 1271, 1234], xCal: [0, 744, 8, 1261], yCal: [-4, 1235, 4, 941],
    xTicks: THERM_XTICKS, yTicks: F_YTICKS, xMinor: 0.5, yMinor: 0.5, thermal: true,
    curves: therm([F_T1, F_T5, F_T9, F_T30, F_T70]),
    legend: { box: [843, 1176, 1270, 1227], title: "Temperatures", titleX: 1056, titleY: 1194,
      items: legendRow(TEMP_LABELS, TEMP_COLORS, [847, 929, 1012, 1095, 1191], 1221) },
    tag: "(f)", tagPos: [757, 1226],
  },
  {
    id: "g", frame: [75, 1319, 615, 1652], xCal: [0, 85, 10, 603], yCal: [0, 1568, 10, 1378],
    xTicks: MICRO_XTICKS, yTicks: G_YTICKS, xMinor: 0.5, yMinor: 1, thermal: false,
    curves: [
      ...dots(G_GREEN), ...reds(G_RED),
      ...[G_N10, G_N9, G_N8, G_N7, G_N6, G_N5, G_N4, G_N3, G_N2, G_N1].map((pts, i) => ({ pts, color: N_COLORS[9 - i], kind: "dot" as const })),
    ],
    legend: { box: [83, 1323, 520, 1422], title: "Eigenstates", titleX: 301, titleY: 1339,
      items: [
        ...legendRow(G_LABELS.slice(0, 4), N_COLORS.slice(0, 4), [85, 156, 228, 298], 1363),
        ...legendRow(G_LABELS.slice(4, 8), N_COLORS.slice(4, 8), [85, 156, 228, 298], 1389),
        ...legendRow(G_LABELS.slice(8), [N_COLORS[8], N_COLORS[9], RED, GREEN], [85, 156, 239, 381], 1415),
      ] },
    tag: "(g)", tagPos: [556, 1632],
  },
  {
    id: "h", frame: [733, 1319, 1271, 1652], xCal: [0, 745, 8, 1203], yCal: [-6, 1653, 4, 1352],
    xTicks: THERM_XTICKS, yTicks: H_YTICKS, xMinor: 0.5, yMinor: 0.5, thermal: true,
    curves: therm([H_T1, H_T5, H_T9, H_T30, H_T70]),
    legend: { box: [814, 1592, 1244, 1646], title: "Temperatures", titleX: 1029, titleY: 1610,
      items: legendRow(TEMP_LABELS, TEMP_COLORS, [819, 902, 985, 1067, 1163], 1636) },
    tag: "(h)", tagPos: [750, 1631],
  },
];

const SIGMA_LABELS = ["0.0", "10.0", "30.0", "70.0"];
const SIGMA_CENTERS = [252, 673, 1092, 1506];
const SIGMA_LENGTHS = [116, 143, 145, 145];

export default function App() {
  return (
    <svg width={1381} height={1723} style={{ position: "absolute", left: 0, top: 0, display: "block" }}>
      <rect x={0} y={0} width={1381} height={1723} fill="#fff" />
      {/* highlighted row */}
      <rect x={6} y={892} width={1285} height={416} fill="#ffff00" />
      <rect x={6} y={902} width={614} height={396} fill="#fff" />
      <rect x={659} y={902} width={613} height={396} fill="#fff" />
      <line x1={6} x2={1291} y1={892.5} y2={892.5} stroke="#b8b800" />
      <line x1={6} x2={1291} y1={1307.5} y2={1307.5} stroke="#b8b800" />
      {/* grid lines between cells */}
      <line x1={6} x2={1291} y1={476.5} y2={476.5} stroke="#9a9a9a" />
      <line x1={638.5} x2={638.5} y1={46} y2={1723} stroke="#9a9a9a" />
      {/* header */}
      <rect x={6} y={4} width={1361} height={42} fill="#000" />
      <line x1={6} x2={1367} y1={4.5} y2={4.5} stroke="#777" />
      <line x1={638.5} x2={638.5} y1={5} y2={46} stroke="#444" />
      <text x={316} y={32} textAnchor="middle" fontFamily={FONT} fontWeight="bold" fontSize={18} fill="#fff">Microcanonical OTOC</text>
      <text x={965} y={32} textAnchor="middle" fontFamily={FONT} fontWeight="bold" fontSize={18} fill="#fff">Thermal OTOC</text>
      {/* sigma column */}
      <rect x={1291} y={46} width={76} height={1677} fill="#000" />
      <rect x={1291} y={892} width={76} height={416} fill="#808000" />
      {[46, 476, 892, 1308].map((yy, i) => (
        <line key={i} x1={1292} x2={1366} y1={yy + 0.5} y2={yy + 0.5} stroke="#333" />
      ))}
      <line x1={1291.5} x2={1291.5} y1={4} y2={1723} stroke="#d22" />
      <line x1={1366.5} x2={1366.5} y1={4} y2={1723} stroke="#d22" />
      {SIGMA_LABELS.map((s, i) => (
        <text
          key={s}
          transform={`translate(1341,${SIGMA_CENTERS[i]}) rotate(-90)`}
          textAnchor="middle"
          fontFamily={FONT}
          fontWeight="bold"
          fontSize={34}
          fill={i === 2 ? "#ffff00" : "#fff"}
          textLength={SIGMA_LENGTHS[i]}
          lengthAdjust="spacingAndGlyphs"
        >
          <tspan fontStyle="italic">{"\u03c3"}</tspan>{" = " + s}
        </text>
      ))}
      {PANELS.map((p) => (
        <Panel key={p.id} p={p} />
      ))}
    </svg>
  );
}
